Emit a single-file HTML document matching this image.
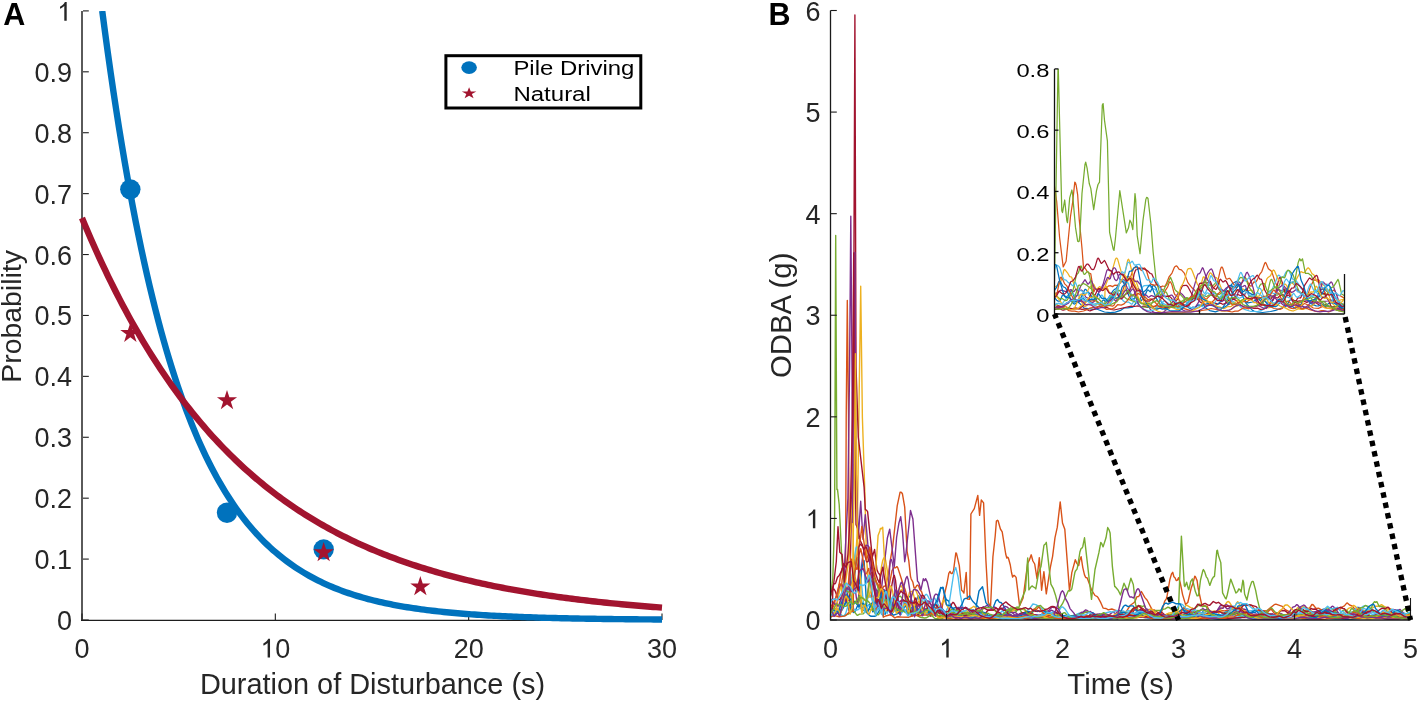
<!DOCTYPE html>
<html><head><meta charset="utf-8"><title>Figure</title>
<style>text{font-family:"Liberation Sans",sans-serif}html,body{margin:0;padding:0;background:#fff;width:1418px;height:702px;overflow:hidden}</style>
</head><body>
<svg width="1418" height="702" viewBox="0 0 1418 702" style="position:absolute;left:0;top:0;will-change:transform">
<rect width="100%" height="100%" fill="#fff"/>
<path d="M82.0,10.9 V620.3" stroke="#5a5a5a" stroke-width="2" fill="none"/>
<path d="M81.0,620.3 H662.0" stroke="#1e1e1e" stroke-width="1.3" fill="none"/>
<g stroke="#1e1e1e" stroke-width="1.1" fill="none">
<path d="M83.0,620.00 H88.8"/>
<path d="M83.0,559.09 H88.8"/>
<path d="M83.0,498.18 H88.8"/>
<path d="M83.0,437.27 H88.8"/>
<path d="M83.0,376.36 H88.8"/>
<path d="M83.0,315.45 H88.8"/>
<path d="M83.0,254.54 H88.8"/>
<path d="M83.0,193.63 H88.8"/>
<path d="M83.0,132.72 H88.8"/>
<path d="M83.0,71.81 H88.8"/>
<path d="M83.0,10.90 H88.8"/>
<path d="M82.00,620.0 v-6.4"/>
<path d="M275.33,620.0 v-6.4"/>
<path d="M468.67,620.0 v-6.4"/>
<path d="M662.00,620.0 v-6.4"/>
</g>
<g font-size="27" fill="#262626">
<text x="72" y="630.00" text-anchor="end">0</text>
<text x="72" y="569.09" text-anchor="end">0.1</text>
<text x="72" y="508.18" text-anchor="end">0.2</text>
<text x="72" y="447.27" text-anchor="end">0.3</text>
<text x="72" y="386.36" text-anchor="end">0.4</text>
<text x="72" y="325.45" text-anchor="end">0.5</text>
<text x="72" y="264.54" text-anchor="end">0.6</text>
<text x="72" y="203.63" text-anchor="end">0.7</text>
<text x="72" y="142.72" text-anchor="end">0.8</text>
<text x="72" y="81.81" text-anchor="end">0.9</text>
<path d="M66.70,2.00 L66.70,20.70 L64.30,20.70 L64.30,6.10 C63.20,7.20 61.60,8.20 60.00,8.80 L60.00,6.70 C62.20,5.70 63.90,4.10 64.90,2.00 Z"/>
<text x="82.00" y="657.7" text-anchor="middle">0</text>
<path d="M270.03,638.80 L270.03,657.50 L267.63,657.50 L267.63,642.90 C266.53,644.00 264.93,645.00 263.33,645.60 L263.33,643.50 C265.53,642.50 267.23,640.90 268.23,638.80 Z"/>
<text x="275.33" y="657.7">0</text>
<text x="468.67" y="657.7" text-anchor="middle">20</text>
<text x="662.00" y="657.7" text-anchor="middle">30</text>
</g>
<text x="372.5" y="694.1" text-anchor="middle" font-size="28.9" fill="#262626">Duration of Disturbance (s)</text>
<text transform="translate(21.0,316.4) rotate(-90)" x="0" y="0" text-anchor="middle" font-size="28.4" fill="#262626">Probability</text>
<text x="3.2" y="24.6" font-weight="bold" font-size="30.5" fill="#000">A</text>
<defs><clipPath id="ca"><rect x="82.0" y="10.9" width="581.0" height="613.1"/></clipPath></defs>
<polyline clip-path="url(#ca)" points="102.22,10.90 105.02,32.13 107.81,52.61 110.61,72.38 113.41,91.47 116.21,109.88 119.01,127.66 121.81,144.82 124.61,161.38 127.41,177.36 130.21,192.78 133.00,207.67 135.80,222.04 138.60,235.91 141.40,249.29 144.20,262.21 147.00,274.68 149.80,286.71 152.60,298.33 155.40,309.54 158.19,320.35 160.99,330.80 163.79,340.87 166.59,350.60 169.39,359.99 172.19,369.05 174.99,377.79 177.79,386.23 180.59,394.38 183.39,402.24 186.18,409.83 188.98,417.16 191.78,424.22 194.58,431.05 197.38,437.63 200.18,443.99 202.98,450.12 205.78,456.04 208.58,461.75 211.37,467.27 214.17,472.59 216.97,477.73 219.77,482.68 222.57,487.47 225.37,492.09 228.17,496.55 230.97,500.85 233.77,505.00 236.56,509.01 239.36,512.87 242.16,516.61 244.96,520.21 247.76,523.69 250.56,527.04 253.36,530.28 256.16,533.41 258.96,536.43 261.75,539.34 264.55,542.15 267.35,544.86 270.15,547.48 272.95,550.01 275.75,552.45 278.55,554.80 281.35,557.07 284.15,559.27 286.95,561.38 289.74,563.43 292.54,565.40 295.34,567.30 298.14,569.14 300.94,570.91 303.74,572.62 306.54,574.27 309.34,575.86 312.14,577.40 314.93,578.89 317.73,580.32 320.53,581.70 323.33,583.04 326.13,584.32 328.93,585.57 331.73,586.77 334.53,587.93 337.33,589.04 340.12,590.12 342.92,591.16 345.72,592.17 348.52,593.14 351.32,594.07 354.12,594.98 356.92,595.85 359.72,596.69 362.52,597.50 365.31,598.29 368.11,599.04 370.91,599.77 373.71,600.48 376.51,601.16 379.31,601.82 382.11,602.45 384.91,603.06 387.71,603.65 390.50,604.22 393.30,604.77 396.10,605.30 398.90,605.81 401.70,606.31 404.50,606.79 407.30,607.25 410.10,607.69 412.90,608.12 415.70,608.53 418.49,608.93 421.29,609.32 424.09,609.69 426.89,610.05 429.69,610.40 432.49,610.73 435.29,611.05 438.09,611.37 440.89,611.67 443.68,611.96 446.48,612.24 449.28,612.51 452.08,612.77 454.88,613.02 457.68,613.26 460.48,613.50 463.28,613.73 466.08,613.94 468.87,614.16 471.67,614.36 474.47,614.56 477.27,614.75 480.07,614.93 482.87,615.11 485.67,615.28 488.47,615.44 491.27,615.60 494.06,615.75 496.86,615.90 499.66,616.04 502.46,616.18 505.26,616.31 508.06,616.44 510.86,616.57 513.66,616.69 516.46,616.80 519.26,616.91 522.05,617.02 524.85,617.12 527.65,617.22 530.45,617.32 533.25,617.41 536.05,617.51 538.85,617.59 541.65,617.68 544.45,617.76 547.24,617.84 550.04,617.91 552.84,617.98 555.64,618.05 558.44,618.12 561.24,618.19 564.04,618.25 566.84,618.31 569.64,618.37 572.43,618.43 575.23,618.48 578.03,618.53 580.83,618.59 583.63,618.63 586.43,618.68 589.23,618.73 592.03,618.77 594.83,618.82 597.62,618.86 600.42,618.90 603.22,618.93 606.02,618.97 608.82,619.01 611.62,619.04 614.42,619.08 617.22,619.11 620.02,619.14 622.82,619.17 625.61,619.20 628.41,619.23 631.21,619.25 634.01,619.28 636.81,619.30 639.61,619.33 642.41,619.35 645.21,619.37 648.01,619.40 650.80,619.42 653.60,619.44 656.40,619.46 659.20,619.48 662.00,619.49" fill="none" stroke="#0072BD" stroke-width="6.4"/>
<polyline points="82.00,217.99 84.90,224.93 87.80,231.74 90.70,238.44 93.60,245.02 96.50,251.49 99.40,257.85 102.30,264.09 105.20,270.23 108.10,276.27 111.00,282.20 113.90,288.02 116.80,293.75 119.70,299.38 122.60,304.91 125.50,310.34 128.40,315.68 131.30,320.93 134.20,326.09 137.10,331.16 140.00,336.14 142.90,341.04 145.80,345.85 148.70,350.58 151.60,355.23 154.50,359.80 157.40,364.28 160.30,368.70 163.20,373.03 166.10,377.29 169.00,381.48 171.90,385.59 174.80,389.63 177.70,393.61 180.60,397.51 183.50,401.35 186.40,405.12 189.30,408.83 192.20,412.47 195.10,416.05 198.00,419.57 200.90,423.03 203.80,426.42 206.70,429.76 209.60,433.05 212.50,436.27 215.40,439.44 218.30,442.55 221.20,445.61 224.10,448.62 227.00,451.58 229.90,454.48 232.80,457.34 235.70,460.15 238.60,462.90 241.50,465.61 244.40,468.28 247.30,470.89 250.20,473.46 253.10,475.99 256.00,478.48 258.90,480.92 261.80,483.32 264.70,485.67 267.60,487.99 270.50,490.27 273.40,492.51 276.30,494.71 279.20,496.87 282.10,498.99 285.00,501.08 287.90,503.13 290.80,505.15 293.70,507.13 296.60,509.07 299.50,510.99 302.40,512.87 305.30,514.72 308.20,516.53 311.10,518.32 314.00,520.07 316.90,521.79 319.80,523.49 322.70,525.15 325.60,526.79 328.50,528.40 331.40,529.98 334.30,531.53 337.20,533.06 340.10,534.56 343.00,536.03 345.90,537.48 348.80,538.90 351.70,540.30 354.60,541.67 357.50,543.03 360.40,544.35 363.30,545.66 366.20,546.94 369.10,548.20 372.00,549.44 374.90,550.66 377.80,551.85 380.70,553.03 383.60,554.18 386.50,555.32 389.40,556.43 392.30,557.53 395.20,558.61 398.10,559.67 401.00,560.71 403.90,561.73 406.80,562.74 409.70,563.72 412.60,564.69 415.50,565.65 418.40,566.59 421.30,567.51 424.20,568.41 427.10,569.30 430.00,570.18 432.90,571.04 435.80,571.88 438.70,572.71 441.60,573.53 444.50,574.33 447.40,575.12 450.30,575.89 453.20,576.65 456.10,577.40 459.00,578.13 461.90,578.86 464.80,579.57 467.70,580.26 470.60,580.95 473.50,581.62 476.40,582.28 479.30,582.94 482.20,583.57 485.10,584.20 488.00,584.82 490.90,585.43 493.80,586.02 496.70,586.61 499.60,587.19 502.50,587.75 505.40,588.31 508.30,588.85 511.20,589.39 514.10,589.92 517.00,590.44 519.90,590.95 522.80,591.45 525.70,591.94 528.60,592.43 531.50,592.90 534.40,593.37 537.30,593.83 540.20,594.28 543.10,594.72 546.00,595.16 548.90,595.59 551.80,596.01 554.70,596.42 557.60,596.83 560.50,597.23 563.40,597.62 566.30,598.01 569.20,598.39 572.10,598.76 575.00,599.13 577.90,599.49 580.80,599.84 583.70,600.19 586.60,600.53 589.50,600.87 592.40,601.20 595.30,601.52 598.20,601.84 601.10,602.15 604.00,602.46 606.90,602.76 609.80,603.06 612.70,603.35 615.60,603.64 618.50,603.92 621.40,604.20 624.30,604.47 627.20,604.74 630.10,605.00 633.00,605.26 635.90,605.52 638.80,605.77 641.70,606.01 644.60,606.25 647.50,606.49 650.40,606.72 653.30,606.95 656.20,607.18 659.10,607.40 662.00,607.62" fill="none" stroke="#A2142F" stroke-width="6.4"/>
<circle cx="130.33" cy="189.37" r="10.2" fill="#0072BD"/>
<circle cx="227.00" cy="512.80" r="10.2" fill="#0072BD"/>
<circle cx="323.67" cy="549.34" r="10.2" fill="#0072BD"/>
<path d="M130.33,322.70 L132.71,330.03 L140.41,330.03 L134.18,334.56 L136.56,341.88 L130.33,337.35 L124.10,341.88 L126.48,334.56 L120.25,330.03 L127.95,330.03Z" fill="#A2142F"/>
<path d="M227.00,389.95 L229.38,397.27 L237.08,397.27 L230.85,401.80 L233.23,409.13 L227.00,404.60 L220.77,409.13 L223.15,401.80 L216.92,397.27 L224.62,397.27Z" fill="#A2142F"/>
<path d="M323.67,541.98 L326.05,549.30 L333.75,549.31 L327.52,553.83 L329.90,561.16 L323.67,556.63 L317.44,561.16 L319.82,553.83 L313.59,549.31 L321.29,549.30Z" fill="#A2142F"/>
<path d="M420.33,576.09 L422.71,583.41 L430.41,583.41 L424.18,587.94 L426.56,595.27 L420.33,590.74 L414.10,595.27 L416.48,587.94 L410.25,583.41 L417.95,583.41Z" fill="#A2142F"/>
<rect x="445.9" y="55.7" width="194.9" height="52.3" fill="#fff" stroke="#000" stroke-width="3"/>
<ellipse cx="469.1" cy="67.6" rx="7.8" ry="6.3" fill="#0072BD"/>
<g transform="translate(469.1,93.4) scale(1.25,1)"><path d="M0.00,-6.10 L1.37,-1.89 L5.80,-1.89 L2.22,0.72 L3.59,4.94 L0.00,2.33 L-3.59,4.94 L-2.22,0.72 L-5.80,-1.89 L-1.37,-1.89Z" fill="#A2142F"/></g>
<g font-size="19.4" fill="#000">
<text transform="translate(513.4,75.2) scale(1.234,1)">Pile Driving</text>
<text transform="translate(513.4,100.9) scale(1.238,1)">Natural</text>
</g>
<defs><clipPath id="cb"><rect x="830.5" y="10.5" width="581.0" height="609.5"/></clipPath></defs>
<g clip-path="url(#cb)" fill="none" stroke-width="1.4" stroke-linejoin="round">
<polyline points="830.5,611.8 833.4,609.4 836.3,608.8 837.5,609.2 839.8,611.9 840.9,611.8 844.4,605.9 846.7,600.3 847.9,599.3 848.5,599.7 849.6,601.8 852.0,609.4 853.1,612.0 853.7,612.5 854.9,611.8 857.2,606.5 858.3,604.8 859.5,605.6 862.4,610.6 863.6,610.1 865.3,610.7 867.6,605.8 868.8,605.0 870.5,604.5 871.7,606.4 872.8,611.9 873.4,611.5 876.9,593.2 877.5,591.2 878.1,590.1 878.6,589.8 879.8,590.9 880.4,592.3 885.0,614.3 887.3,610.0 888.5,608.9 889.7,609.4 892.0,613.6 894.3,610.4 896.6,608.7 897.8,609.5 900.1,614.7 900.7,614.9 904.7,602.6 907.6,597.1 908.8,596.0 910.0,596.9 911.1,598.6 912.3,602.2 914.0,610.6 914.6,611.0 916.9,599.1 918.1,596.0 918.7,595.8 919.8,598.2 923.3,611.0 923.9,611.6 925.6,609.4 926.8,608.6 928.5,609.1 930.8,607.5 935.5,609.0 936.1,608.4 940.7,588.3 943.0,587.2 945.3,597.0 946.5,600.0 947.7,600.2 948.2,600.7 952.3,608.4 955.2,607.7 958.1,608.5 959.8,607.9 961.6,608.3 964.5,607.9 966.2,608.3 968.5,609.5 970.9,609.4 972.6,610.3 974.3,610.4 975.5,610.1 979.0,591.0 982.5,586.7 985.9,602.6 987.1,604.1 989.4,605.5 991.7,607.7 992.9,608.2 995.8,600.9 997.5,599.5 999.3,602.1 999.9,602.5 1001.0,602.4 1003.3,605.3 1006.8,611.3 1007.4,614.6 1009.7,614.7 1015.5,617.8 1017.8,618.3 1026.0,618.4 1037.6,615.2 1039.9,616.3 1043.9,616.4 1046.8,617.7 1051.5,617.9 1055.0,618.7 1060.2,618.4 1065.4,617.5 1068.9,618.0 1074.7,617.9 1078.2,618.6 1090.3,617.7 1095.6,618.8 1105.4,619.2 1111.2,618.8 1117.0,617.4 1119.9,614.9 1121.7,613.9 1123.4,612.1 1124.0,612.0 1125.7,613.8 1126.3,613.9 1128.0,612.7 1128.6,612.7 1132.1,615.9 1135.0,615.7 1137.9,617.1 1140.8,617.0 1153.6,618.6 1161.7,618.7 1165.7,618.3 1168.6,616.8 1171.5,616.4 1173.9,614.8 1175.6,614.2 1177.9,614.2 1180.2,615.5 1182.6,615.7 1184.9,613.7 1187.8,614.4 1190.1,613.7 1191.8,612.2 1192.4,612.2 1194.2,614.3 1195.9,615.6 1202.3,618.1 1212.1,618.4 1217.9,619.3 1224.3,619.5 1229.5,619.1 1234.2,618.0 1241.1,617.7 1244.0,616.2 1246.9,615.9 1249.3,614.9 1252.7,612.1 1255.1,612.6 1257.4,610.5 1258.0,610.4 1259.7,611.3 1264.3,616.4 1266.1,617.4 1267.8,617.9 1269.6,618.0 1273.0,616.9 1275.9,616.6 1284.1,617.1 1292.2,613.4 1293.9,613.1 1295.1,613.8 1297.4,616.6 1299.1,617.9 1302.6,618.9 1307.3,619.3 1311.3,618.6 1313.1,617.9 1316.5,615.4 1320.0,610.4 1320.6,610.0 1324.1,609.1 1327.0,609.6 1329.9,614.9 1331.6,616.4 1336.8,618.8 1340.9,619.3 1345.0,619.5 1351.3,619.2 1362.9,617.7 1364.1,617.4 1366.4,615.6 1368.2,615.3 1369.9,615.4 1374.0,617.0 1376.3,617.1 1379.8,618.2 1382.1,617.4 1385.6,616.9 1387.9,615.6 1390.2,612.6 1393.7,611.6 1399.5,613.2 1401.8,615.6 1405.9,617.5 1410.5,617.7" stroke="#0072BD"/>
<polyline points="830.5,607.4 834.6,600.8 838.0,591.6 840.9,573.6 842.1,568.5 842.7,568.3 843.3,569.6 844.4,574.1 845.6,583.2 846.7,597.9 847.3,599.7 849.1,573.6 850.2,564.7 851.4,559.3 852.0,559.5 852.5,561.8 854.9,576.4 857.8,588.1 861.2,607.7 861.8,608.4 863.0,606.1 863.6,606.0 865.3,610.3 867.0,600.0 869.4,578.1 869.9,574.9 871.1,572.8 872.3,572.5 872.8,572.9 875.2,579.9 878.6,587.8 882.1,593.0 882.7,588.4 883.3,587.0 883.9,586.2 885.0,586.0 885.6,585.5 886.2,584.0 888.5,573.6 890.2,560.6 892.6,547.4 897.2,505.9 900.1,492.2 900.7,492.1 901.3,492.3 902.4,493.7 904.7,507.1 907.1,551.3 908.8,560.8 910.5,576.3 911.1,578.7 912.9,582.3 914.0,587.7 915.2,588.2 916.9,585.4 917.5,585.2 918.1,585.6 918.7,586.2 919.8,589.5 921.6,591.7 923.3,597.2 925.6,599.2 927.9,603.0 930.3,603.9 932.0,605.5 935.5,607.6 939.0,608.3 940.7,609.4 941.9,609.3 943.6,598.2 947.1,583.0 948.8,573.3 950.0,571.4 951.1,573.3 951.7,573.6 952.3,573.3 953.5,570.9 955.8,553.0 956.4,553.2 956.9,555.2 959.3,565.6 961.6,590.2 962.7,591.2 963.9,593.1 966.2,572.4 967.4,599.1 969.7,599.3 970.9,514.0 974.3,508.6 977.8,495.4 979.6,515.4 981.3,500.0 983.6,502.9 985.9,560.3 988.3,602.4 989.4,604.5 990.6,605.7 992.9,557.0 995.2,536.0 996.4,521.1 997.5,520.3 998.1,520.8 1000.4,529.0 1002.2,531.8 1005.7,554.0 1006.8,558.0 1007.4,557.2 1008.0,557.4 1008.6,558.7 1010.3,565.0 1011.5,572.5 1012.6,577.0 1013.8,575.4 1014.4,575.5 1016.1,577.4 1019.6,605.8 1023.1,598.0 1027.7,563.2 1029.4,559.9 1031.2,554.8 1032.9,561.0 1034.7,564.0 1037.0,578.7 1039.3,557.6 1041.6,590.2 1043.9,571.7 1046.3,593.9 1050.3,567.6 1052.6,556.3 1055.0,537.6 1057.3,527.2 1060.2,501.9 1062.5,523.0 1064.8,529.3 1069.5,590.9 1071.8,572.6 1075.3,559.8 1077.0,563.6 1078.7,565.5 1079.9,559.7 1081.1,556.7 1082.8,567.6 1084.5,574.9 1085.7,577.5 1086.9,577.7 1087.4,578.4 1091.5,589.8 1095.0,595.5 1097.3,596.7 1097.9,597.4 1100.8,602.7 1103.1,608.1 1106.0,608.5 1108.3,609.9 1111.8,609.0 1117.6,611.2 1126.3,611.7 1130.4,605.2 1133.8,602.8 1135.0,601.5 1136.7,597.2 1137.3,596.6 1138.5,596.6 1139.1,595.9 1141.4,591.5 1144.9,597.6 1147.2,600.2 1151.8,609.1 1153.0,610.0 1154.7,609.9 1157.6,612.5 1161.1,613.7 1164.6,601.4 1166.3,598.8 1166.9,597.0 1169.8,579.8 1171.5,574.0 1172.7,572.3 1173.9,576.7 1175.0,577.7 1176.2,580.6 1177.3,580.3 1178.5,577.7 1180.2,582.7 1182.6,594.6 1185.5,604.4 1187.8,602.5 1191.3,587.7 1193.0,583.1 1194.7,576.3 1195.3,576.5 1197.1,580.6 1198.2,588.5 1201.7,604.6 1207.5,606.7 1209.8,612.7 1211.0,611.5 1213.3,612.0 1217.4,611.4 1219.1,611.6 1222.0,610.6 1224.9,610.9 1226.6,610.4 1229.0,610.5 1232.4,609.1 1234.2,609.1 1236.5,607.7 1239.4,607.7 1241.7,604.9 1242.9,604.6 1245.8,604.7 1248.1,605.6 1249.8,604.8 1251.0,604.9 1255.6,610.1 1258.5,610.5 1260.3,610.3 1262.6,611.2 1264.9,610.7 1266.7,610.9 1274.2,604.7 1275.9,604.1 1282.3,606.4 1285.2,609.6 1292.2,613.2 1294.5,613.5 1295.1,612.3 1296.8,613.9 1299.7,615.1 1303.2,613.7 1305.5,611.3 1308.4,609.9 1311.9,604.5 1313.1,604.7 1316.0,608.4 1318.9,608.3 1324.1,611.3 1327.6,610.3 1330.5,607.7 1334.5,610.5 1335.7,610.8 1338.0,609.4 1339.2,609.4 1340.3,609.0 1342.6,606.8 1344.4,605.9 1346.7,603.1 1347.3,602.9 1349.6,605.0 1352.5,606.2 1354.8,609.2 1362.9,615.6 1364.1,616.0 1365.8,615.7 1368.2,616.8 1371.6,616.9 1376.3,616.0 1378.6,613.9 1380.9,613.6 1381.5,613.2 1383.2,610.9 1385.6,609.1 1386.7,608.7 1390.2,608.8 1396.0,613.7 1396.6,613.7 1398.9,612.2 1400.6,612.5 1402.4,612.1 1404.7,613.7 1410.5,614.6" stroke="#D95319"/>
<polyline points="830.5,609.6 834.0,603.7 834.6,603.0 835.1,603.0 836.3,605.8 838.0,612.8 840.4,600.9 842.1,595.8 843.8,594.8 845.0,594.9 847.3,599.1 847.9,599.5 848.5,599.3 849.6,595.8 850.2,592.2 853.1,570.1 853.7,586.5 857.2,533.3 860.7,286.3 862.4,418.0 864.7,487.8 866.5,557.4 869.4,597.1 870.5,596.2 872.3,599.2 874.0,604.5 875.7,613.4 881.5,566.5 882.7,560.6 883.9,557.8 884.4,557.5 885.0,558.2 885.6,560.1 887.3,570.7 890.8,600.7 892.6,612.3 893.1,611.4 895.5,600.2 897.8,594.1 899.5,587.5 900.7,585.6 901.3,585.9 902.4,587.9 904.2,592.9 906.5,607.0 907.1,606.9 908.2,597.9 909.4,592.5 910.0,591.7 911.7,591.4 912.9,592.8 913.4,594.3 916.3,605.4 918.1,601.9 918.7,601.5 921.0,603.0 922.7,601.4 923.3,601.5 929.7,611.7 931.4,612.1 934.3,610.6 939.5,612.6 942.4,612.0 945.3,612.6 948.8,610.5 951.7,612.9 952.9,613.2 954.0,613.0 955.8,611.2 959.8,611.2 962.2,612.6 965.1,612.4 969.1,616.7 970.9,617.7 974.3,617.3 978.4,617.7 982.5,616.5 984.8,616.8 987.7,615.7 992.9,617.2 996.4,616.8 998.7,616.0 1001.0,614.7 1003.3,615.6 1005.7,615.2 1008.0,615.7 1012.6,616.0 1014.9,617.1 1016.1,617.2 1019.6,616.6 1024.2,615.3 1027.1,615.3 1030.0,612.7 1031.2,613.0 1037.6,617.0 1039.9,617.2 1042.8,618.2 1046.8,618.9 1063.7,618.5 1069.5,617.6 1072.9,617.7 1078.2,615.4 1081.6,616.0 1084.0,617.6 1087.4,618.4 1096.7,619.1 1106.0,618.2 1108.9,617.0 1113.5,616.5 1119.3,615.2 1122.2,616.0 1128.0,613.7 1129.2,613.8 1130.9,615.0 1131.5,615.0 1133.3,614.1 1135.0,614.0 1137.9,610.9 1139.1,610.4 1140.8,611.4 1143.1,611.8 1147.2,613.4 1151.2,616.4 1154.7,617.1 1157.6,616.3 1160.5,616.3 1164.0,614.9 1167.5,614.3 1169.2,614.4 1173.9,612.8 1176.2,612.6 1178.5,611.1 1183.1,609.7 1186.0,605.4 1186.6,605.2 1190.7,607.6 1192.4,608.0 1194.7,611.1 1201.7,617.3 1203.4,617.5 1206.9,616.7 1211.0,617.1 1213.3,616.6 1217.4,617.4 1218.5,617.3 1219.1,610.8 1224.3,606.0 1227.2,601.9 1228.4,601.5 1229.5,602.4 1232.4,606.8 1233.6,607.5 1234.8,606.7 1236.5,603.1 1237.7,601.8 1238.2,602.2 1241.7,608.1 1244.0,609.5 1246.4,612.3 1248.1,613.5 1250.4,616.4 1251.6,616.9 1256.2,617.4 1260.9,617.8 1263.2,617.0 1266.1,617.3 1269.0,616.8 1276.5,618.6 1281.2,618.2 1287.0,615.7 1291.0,613.2 1293.9,612.6 1297.4,607.8 1298.0,607.6 1300.3,608.8 1303.2,606.3 1306.1,607.7 1308.4,608.1 1312.5,612.0 1315.4,612.4 1317.1,613.5 1319.4,613.5 1321.8,612.5 1324.1,612.1 1327.0,612.5 1329.3,611.7 1331.6,612.3 1336.3,612.1 1345.5,617.0 1348.4,617.8 1350.2,617.9 1355.4,617.0 1358.9,614.7 1361.2,612.0 1363.5,612.7 1364.7,612.4 1367.6,609.6 1370.5,610.1 1372.2,608.3 1375.1,606.2 1378.6,606.2 1381.5,604.7 1384.4,606.6 1386.1,607.1 1388.5,609.2 1390.8,609.2 1394.8,610.8 1397.2,612.7 1399.5,615.4 1401.2,616.7 1405.9,618.3 1410.5,618.5" stroke="#EDB120"/>
<polyline points="830.5,612.2 832.2,608.4 832.8,608.0 833.4,608.1 835.7,613.2 839.2,588.4 839.8,586.1 840.9,584.5 841.5,584.3 842.1,584.8 842.7,586.4 845.6,603.1 847.9,588.3 848.5,586.5 850.2,584.9 852.0,580.5 852.5,580.0 853.7,582.3 854.9,586.9 857.2,604.0 857.8,604.9 862.4,558.4 864.1,550.2 865.9,545.2 868.2,545.9 868.8,546.6 869.4,548.6 874.0,575.7 876.3,599.6 876.9,593.7 878.6,591.2 880.4,590.9 881.5,588.7 887.3,538.3 889.7,529.2 894.3,566.4 896.6,537.5 898.9,523.1 900.7,516.7 902.4,530.6 904.7,561.7 905.9,554.2 910.5,510.5 912.9,519.0 917.5,581.1 918.7,582.5 921.0,589.7 923.3,578.8 924.5,580.7 925.0,580.3 925.6,578.6 927.4,582.4 931.4,600.3 933.2,604.4 935.5,612.0 938.4,609.8 939.5,609.8 944.2,616.1 945.9,614.8 947.1,614.5 950.6,616.8 952.3,616.2 957.5,617.7 962.2,616.9 964.5,617.2 971.4,611.7 973.8,611.6 976.1,610.5 978.4,612.8 980.1,613.1 982.5,614.5 984.8,614.9 987.1,616.1 991.2,616.3 996.4,614.0 999.3,609.5 999.9,609.1 1002.2,609.1 1003.9,606.9 1005.1,606.3 1006.8,606.9 1009.1,608.7 1014.4,614.9 1017.8,614.8 1021.9,615.9 1024.2,616.0 1027.1,617.2 1032.3,616.0 1035.8,614.6 1038.7,615.2 1041.6,614.9 1045.1,613.5 1047.4,611.0 1049.7,611.4 1051.5,610.2 1054.4,611.8 1056.7,612.4 1059.0,615.6 1061.9,617.5 1069.5,618.3 1076.4,617.1 1084.5,611.7 1086.9,612.4 1090.3,611.5 1096.7,616.7 1097.9,617.1 1101.4,616.4 1103.7,614.8 1105.4,615.0 1109.5,614.5 1113.0,611.9 1114.7,613.1 1115.9,613.4 1118.8,610.3 1122.2,612.4 1124.0,612.3 1127.5,613.4 1130.4,613.4 1132.7,614.5 1135.0,613.3 1137.3,613.6 1140.2,610.0 1144.3,610.8 1147.2,609.2 1148.3,609.6 1150.1,609.5 1152.4,612.4 1155.9,614.7 1157.0,615.2 1158.8,614.9 1161.1,616.7 1162.3,617.0 1166.9,617.5 1169.2,616.8 1171.5,616.9 1177.3,614.0 1183.1,612.1 1188.4,612.6 1191.3,611.9 1193.6,612.6 1195.9,611.8 1197.6,612.3 1200.5,612.2 1203.4,614.3 1205.8,614.9 1207.5,616.1 1208.7,616.4 1212.1,615.2 1214.5,612.0 1216.2,611.2 1217.4,610.2 1220.3,605.7 1221.4,605.3 1224.3,605.9 1226.6,608.5 1227.8,608.9 1229.0,608.4 1230.1,607.1 1233.0,606.7 1236.5,608.6 1238.8,608.2 1241.1,608.4 1242.9,609.3 1244.6,609.1 1247.5,610.4 1250.4,615.0 1252.2,615.9 1255.1,618.4 1258.5,619.5 1264.3,619.6 1267.8,618.6 1273.0,616.0 1277.7,612.9 1280.6,613.4 1283.5,614.9 1287.0,615.2 1292.8,607.2 1295.1,606.3 1296.8,604.6 1297.4,604.8 1300.3,608.3 1303.8,610.7 1306.7,614.6 1307.3,614.9 1309.6,614.9 1311.9,615.9 1314.8,615.4 1317.1,616.9 1318.3,616.8 1321.2,614.9 1323.5,614.8 1327.0,611.3 1330.5,610.5 1331.6,611.1 1333.9,613.8 1335.1,614.2 1338.0,614.3 1339.7,615.7 1343.2,616.7 1346.1,615.6 1349.0,616.3 1351.9,616.1 1353.1,615.6 1357.1,612.0 1360.0,612.3 1362.4,611.8 1365.8,612.9 1369.3,616.1 1370.5,616.8 1377.4,618.2 1385.0,616.2 1387.3,614.6 1389.6,614.1 1390.8,612.9 1393.1,609.4 1397.2,610.3 1400.1,609.4 1407.6,617.5 1410.5,618.7" stroke="#7E2F8E"/>
<polyline points="830.5,615.4 834.6,612.6 836.9,613.4 838.6,613.4 842.1,615.7 843.3,615.9 848.5,614.0 851.4,611.0 852.5,610.5 853.7,611.0 857.2,615.4 857.8,615.3 859.5,614.1 863.0,613.9 864.7,612.2 866.5,611.5 868.8,609.5 870.5,609.4 872.8,610.4 874.6,610.0 876.9,608.7 882.1,604.7 884.4,604.1 886.8,601.7 888.5,601.3 889.7,600.3 892.0,602.4 893.7,602.5 895.5,603.2 898.9,606.1 900.1,607.7 901.3,608.4 903.0,608.6 905.3,611.3 906.5,611.7 910.5,614.9 912.9,615.1 915.8,614.8 920.4,617.3 924.5,618.0 926.2,617.8 930.8,615.2 933.2,614.7 935.5,612.9 936.6,612.6 939.5,613.5 942.4,615.2 944.2,615.5 947.7,617.4 951.1,616.7 954.0,617.0 957.5,616.1 964.5,615.6 968.5,614.1 976.1,618.4 981.3,619.1 988.8,618.9 997.0,617.3 1003.3,613.8 1005.1,612.4 1007.4,611.8 1009.1,610.2 1013.8,609.8 1015.5,610.3 1016.1,612.0 1019.6,605.5 1021.3,599.9 1025.4,590.3 1027.7,558.0 1028.9,589.9 1031.2,586.6 1032.3,585.9 1032.9,586.7 1035.2,588.0 1035.8,588.9 1038.7,572.5 1041.0,566.6 1043.9,545.6 1044.5,544.5 1045.7,543.8 1046.3,542.3 1050.9,584.1 1053.2,588.3 1055.5,595.2 1059.0,609.0 1062.5,603.7 1068.3,590.7 1070.6,590.5 1071.8,588.9 1074.7,573.3 1075.3,571.3 1077.0,569.1 1077.6,566.6 1079.9,552.0 1081.1,548.5 1082.2,547.9 1082.8,546.5 1084.5,537.8 1091.5,599.3 1095.0,569.5 1099.0,552.2 1100.8,542.4 1101.9,543.9 1103.1,546.9 1106.0,537.8 1107.7,527.5 1108.9,529.6 1110.1,533.0 1112.4,566.7 1114.7,586.6 1115.3,586.7 1118.2,590.2 1120.5,594.9 1124.0,583.2 1127.5,590.9 1130.9,578.3 1133.3,584.5 1135.6,604.7 1137.3,608.0 1139.1,613.4 1141.4,612.9 1148.9,612.4 1152.4,611.0 1154.7,611.0 1156.5,610.4 1160.5,610.5 1162.8,609.4 1165.2,608.9 1167.5,607.2 1169.2,607.5 1170.4,608.7 1175.0,611.7 1178.5,608.9 1181.4,536.1 1184.3,585.8 1184.9,586.4 1186.6,582.2 1188.4,589.0 1188.9,589.7 1190.7,581.5 1192.4,578.9 1195.3,591.3 1197.1,595.9 1198.2,595.8 1198.8,593.8 1200.5,580.0 1202.9,570.4 1203.4,569.6 1204.6,571.6 1206.3,576.8 1207.5,578.4 1209.8,585.4 1212.1,579.1 1213.3,577.1 1214.5,576.3 1216.8,550.7 1217.4,550.2 1218.5,555.8 1220.8,562.6 1222.6,592.9 1225.5,598.5 1226.1,598.9 1227.2,595.0 1230.7,579.1 1235.9,593.1 1237.7,591.4 1238.8,588.9 1240.0,589.7 1241.1,592.0 1242.9,580.1 1243.5,582.1 1244.6,594.0 1246.9,600.0 1249.3,588.9 1251.6,582.1 1252.2,581.4 1252.7,581.4 1253.3,581.7 1255.6,590.1 1257.4,599.3 1259.7,608.6 1263.2,613.9 1264.9,613.0 1267.2,610.8 1269.0,609.9 1271.3,607.8 1274.8,611.8 1275.9,612.4 1282.3,615.0 1284.6,614.6 1286.4,615.3 1289.3,614.5 1292.2,614.9 1297.4,613.7 1299.7,614.2 1302.6,613.7 1306.7,614.1 1308.4,613.4 1310.7,613.4 1313.6,612.3 1316.5,612.8 1323.5,610.8 1325.2,609.0 1327.0,608.0 1329.3,608.1 1329.9,607.7 1331.6,608.4 1333.9,610.9 1340.9,615.0 1344.4,614.6 1346.7,614.8 1349.0,614.4 1351.9,614.4 1354.2,613.7 1360.0,613.2 1364.7,611.3 1367.0,609.7 1369.9,609.3 1371.1,608.5 1373.4,603.1 1374.5,601.7 1375.7,602.4 1376.9,601.7 1379.2,606.5 1381.5,606.5 1383.8,607.1 1387.3,611.9 1389.0,612.6 1394.3,613.6 1396.6,613.4 1398.3,611.9 1401.8,610.9 1405.3,608.5 1408.2,613.4 1410.5,613.9" stroke="#77AC30"/>
<polyline points="830.5,613.1 832.2,615.6 832.8,615.1 834.6,611.1 836.3,609.2 837.5,609.9 838.6,613.1 842.7,597.3 845.0,595.4 849.1,588.6 850.2,584.9 852.0,576.2 854.9,554.7 856.0,548.2 856.6,546.9 857.2,547.0 857.8,549.1 858.9,557.4 863.0,598.8 864.7,612.5 867.6,598.8 868.8,596.4 869.9,595.0 870.5,595.3 871.1,596.7 874.0,607.0 875.7,609.7 878.1,608.7 879.2,610.2 879.8,609.2 882.7,597.7 883.9,595.3 884.4,595.2 887.9,599.9 892.0,611.6 892.6,611.8 893.1,611.0 894.3,610.6 895.5,611.3 897.2,613.2 898.4,612.3 898.9,612.3 900.7,614.3 903.6,610.5 906.5,609.6 908.8,607.5 910.0,607.0 912.3,607.7 914.6,610.0 918.1,611.9 918.7,611.0 921.6,601.1 923.3,599.0 925.0,595.3 926.2,594.2 927.4,595.2 930.8,601.7 933.7,598.2 934.3,598.0 934.9,598.5 936.6,602.1 940.7,608.7 942.4,610.4 943.6,610.8 944.2,615.1 948.8,605.5 953.5,575.0 954.6,570.1 955.8,567.6 958.1,577.1 960.4,594.8 964.5,615.8 973.2,616.3 980.7,619.0 984.2,617.9 992.9,616.1 996.4,614.0 999.3,614.3 1002.2,610.7 1004.5,613.1 1008.0,612.9 1012.6,615.7 1016.1,616.7 1021.3,616.4 1022.5,615.8 1024.8,613.4 1027.1,610.3 1029.4,608.8 1032.9,604.0 1035.8,604.6 1039.3,606.6 1042.2,609.3 1046.8,614.7 1050.3,616.3 1052.1,616.7 1053.8,616.4 1056.1,615.2 1061.3,607.2 1061.9,606.8 1063.1,607.2 1065.4,609.6 1068.9,614.8 1070.0,615.8 1071.2,616.0 1075.3,615.0 1079.3,613.2 1082.8,615.4 1084.5,615.4 1086.9,616.5 1089.8,616.7 1092.7,616.4 1095.0,615.0 1103.1,613.7 1110.1,611.8 1113.0,612.1 1117.0,610.4 1119.3,611.9 1120.5,612.2 1122.8,611.0 1125.1,611.8 1127.5,610.8 1130.4,611.0 1133.3,609.6 1135.6,610.7 1137.9,610.5 1140.8,612.2 1143.7,611.3 1146.6,612.9 1150.1,613.1 1153.0,614.7 1155.9,617.1 1159.9,618.2 1161.7,617.9 1164.6,616.7 1168.1,617.0 1173.3,615.1 1176.2,616.4 1179.1,617.1 1182.0,616.4 1184.3,616.6 1191.8,613.1 1195.3,613.9 1200.0,613.4 1206.9,616.5 1213.9,617.6 1219.1,616.3 1223.7,614.1 1225.5,613.8 1227.8,612.0 1228.4,612.0 1230.7,614.0 1234.2,616.0 1237.7,616.0 1240.6,616.7 1243.5,614.0 1246.4,613.0 1249.3,610.9 1253.3,610.5 1259.1,611.9 1262.6,615.0 1265.5,616.5 1269.0,617.3 1274.8,616.8 1278.8,616.0 1280.6,616.2 1282.3,615.8 1284.6,616.1 1288.1,615.9 1290.4,614.4 1293.3,615.2 1296.2,614.1 1298.6,614.0 1300.3,613.0 1302.6,613.4 1306.1,613.1 1307.8,613.3 1310.2,614.5 1312.5,614.1 1314.8,615.0 1317.1,614.7 1330.5,618.5 1335.7,619.2 1340.9,619.2 1344.4,618.8 1347.9,616.9 1357.1,607.3 1357.7,607.1 1361.2,607.9 1363.5,606.1 1365.3,605.6 1366.4,605.9 1369.3,608.5 1371.1,608.6 1375.7,611.5 1378.6,612.2 1381.5,614.5 1385.0,614.1 1387.9,612.3 1390.2,612.1 1391.9,611.1 1394.3,611.4 1397.7,610.0 1401.2,614.1 1405.9,615.5 1410.5,617.6" stroke="#4DBEEE"/>
<polyline points="830.5,596.6 832.2,591.1 833.4,589.2 834.0,589.0 835.1,590.8 837.5,597.7 839.2,599.5 839.8,599.5 840.4,598.9 842.7,593.5 843.3,593.0 844.4,593.4 846.2,597.9 849.6,613.1 850.2,568.2 852.5,465.8 853.7,314.5 854.9,14.9 856.0,366.6 858.3,437.0 864.1,487.1 865.3,509.7 866.5,510.1 867.6,511.6 872.3,557.1 874.6,549.5 876.9,569.5 878.1,572.6 879.8,574.8 880.4,576.7 881.0,612.8 882.7,602.5 883.9,598.5 885.0,596.9 887.3,599.9 890.2,605.3 891.4,606.3 892.6,606.8 894.3,606.8 895.5,606.3 898.4,602.1 900.1,601.5 901.8,599.9 902.4,599.9 906.5,606.2 909.4,612.4 911.7,616.1 913.4,615.1 915.8,615.1 916.9,614.7 921.0,611.7 922.7,609.8 926.2,608.9 926.8,609.0 927.9,610.3 930.8,616.3 933.7,611.4 934.9,610.9 937.8,611.4 941.3,615.4 944.2,616.5 948.8,616.0 951.7,614.6 954.0,615.1 955.8,614.8 958.1,613.8 958.7,614.0 960.4,615.9 961.0,615.8 962.7,613.9 963.9,613.2 966.2,613.9 970.9,616.3 980.7,616.3 984.2,615.2 987.7,610.5 992.9,609.9 995.2,610.2 997.5,612.5 999.3,612.5 1003.3,615.9 1006.8,616.0 1013.2,617.0 1017.3,616.9 1020.7,618.1 1028.9,619.5 1037.0,619.4 1043.4,618.4 1046.3,617.5 1050.3,617.3 1055.5,616.4 1061.9,616.6 1067.1,618.3 1072.9,619.1 1090.9,618.8 1094.4,618.2 1099.0,618.5 1102.5,617.7 1104.8,616.4 1107.7,616.9 1111.2,615.7 1113.5,616.2 1116.4,617.6 1120.5,618.0 1125.7,617.1 1129.2,615.7 1132.1,613.4 1135.0,608.6 1135.6,608.7 1137.3,610.7 1138.5,611.1 1140.8,609.0 1142.5,608.4 1145.4,610.9 1150.1,612.0 1152.4,611.6 1155.9,613.6 1158.8,616.3 1163.4,618.4 1166.3,618.8 1171.0,618.2 1176.2,618.5 1182.0,618.1 1185.5,618.7 1195.3,618.0 1200.5,618.5 1204.0,618.3 1206.9,619.0 1214.5,617.4 1226.1,618.7 1244.6,617.3 1256.8,617.8 1261.4,617.2 1264.9,617.9 1269.6,618.0 1273.6,617.1 1277.1,615.0 1279.4,611.8 1280.6,610.9 1283.5,610.5 1285.2,610.9 1288.7,613.6 1296.2,616.4 1299.7,615.6 1304.4,616.4 1309.0,616.7 1311.3,616.4 1313.6,616.7 1316.5,616.1 1320.0,614.7 1323.5,615.4 1329.9,617.7 1340.9,618.0 1343.8,618.5 1346.1,618.3 1349.6,617.4 1353.7,615.1 1354.8,614.0 1357.7,608.8 1358.9,607.9 1360.6,609.5 1362.9,613.0 1363.5,613.2 1365.3,612.3 1365.8,612.4 1368.7,615.0 1369.9,615.5 1378.0,615.7 1380.3,616.2 1383.8,615.6 1387.3,616.1 1391.4,617.4 1395.4,616.9 1398.3,617.6 1404.1,617.5 1408.2,618.3 1410.5,618.2" stroke="#A2142F"/>
<polyline points="830.5,616.5 835.7,614.4 838.0,612.5 839.2,612.1 845.6,602.4 846.7,602.4 847.3,603.0 850.8,609.8 851.4,600.7 856.6,559.5 857.8,557.4 858.3,563.1 859.5,588.7 861.8,569.2 863.0,563.3 863.6,561.3 864.1,560.8 867.0,612.9 869.4,615.3 871.1,616.3 874.6,616.3 876.3,615.5 879.2,610.8 880.4,609.8 881.5,609.4 885.6,612.3 886.2,612.1 887.3,610.3 887.9,610.0 890.8,613.1 893.7,615.2 900.1,612.6 900.7,612.1 902.4,608.1 906.5,606.2 908.2,607.6 910.0,608.0 912.9,612.8 914.0,613.9 915.2,614.4 920.4,612.9 922.7,614.1 925.6,614.0 927.4,615.1 929.7,614.1 932.0,614.1 934.3,612.3 936.1,612.0 938.4,610.5 940.7,610.4 942.4,609.2 943.0,609.4 945.3,612.9 946.5,613.6 948.8,613.8 954.0,616.0 957.5,615.9 958.1,612.1 960.4,606.9 962.2,603.9 963.9,599.4 965.1,598.5 966.8,598.4 969.7,595.7 971.4,599.3 973.2,601.8 979.0,607.7 979.6,615.7 982.5,617.0 985.4,617.0 987.1,617.8 992.9,619.1 998.1,619.3 1001.6,618.8 1005.1,617.5 1009.1,615.0 1017.3,617.8 1020.2,618.2 1023.6,618.0 1026.5,618.3 1029.4,617.9 1034.7,618.2 1041.6,614.4 1043.9,612.6 1044.5,612.5 1047.4,613.9 1051.5,613.7 1053.8,614.9 1056.7,613.7 1059.0,613.3 1059.6,613.5 1061.9,616.1 1066.6,618.5 1069.5,619.3 1072.4,619.5 1078.7,619.2 1083.4,618.0 1085.7,616.7 1089.2,615.4 1091.5,613.0 1092.7,612.6 1095.6,615.1 1101.4,617.9 1108.3,618.6 1114.1,618.0 1115.3,617.5 1119.9,613.0 1123.4,606.6 1124.6,605.5 1125.7,605.1 1128.0,606.6 1130.4,605.9 1132.7,605.9 1133.3,606.2 1135.6,609.8 1138.5,612.2 1140.2,612.6 1143.7,616.5 1147.8,617.6 1151.2,617.6 1158.2,618.5 1170.4,616.1 1176.8,613.3 1179.7,611.6 1182.0,609.2 1182.6,609.1 1185.5,610.9 1187.8,611.6 1191.3,615.1 1194.2,616.7 1198.8,615.3 1202.9,611.8 1213.9,616.5 1215.0,616.6 1217.4,615.4 1219.7,615.7 1225.5,612.2 1227.8,611.6 1231.3,609.3 1232.4,609.0 1234.2,610.1 1238.8,614.7 1240.6,615.2 1243.5,614.5 1246.4,615.5 1249.3,612.9 1251.6,612.1 1255.1,610.3 1256.8,611.4 1259.7,614.6 1263.2,616.9 1267.2,618.4 1272.5,617.6 1278.3,617.7 1281.2,617.0 1287.0,618.2 1289.3,617.7 1291.6,617.7 1293.3,617.0 1296.2,617.1 1300.9,616.6 1303.2,617.2 1306.7,617.3 1310.7,616.0 1317.7,610.7 1319.4,610.5 1322.3,611.1 1325.2,610.2 1326.4,610.4 1329.3,612.5 1332.2,611.7 1333.9,612.9 1338.6,613.7 1346.1,617.0 1347.9,617.4 1353.1,617.0 1357.1,615.3 1358.9,615.1 1360.6,615.6 1362.9,617.0 1365.3,616.9 1367.0,617.5 1371.6,618.1 1375.7,616.8 1378.0,615.2 1379.8,614.9 1383.8,616.6 1387.9,617.3 1392.5,616.7 1395.4,617.6 1397.7,616.4 1401.8,616.3 1410.5,618.6" stroke="#0072BD"/>
<polyline points="830.5,608.1 831.7,609.8 832.2,609.7 833.4,607.3 839.2,584.4 839.8,583.6 840.4,584.3 841.5,588.0 842.1,579.8 845.6,561.7 846.2,418.5 847.3,300.4 848.5,414.2 849.1,546.8 851.4,566.5 852.5,564.0 853.7,559.7 855.4,566.6 856.6,569.2 857.2,569.2 858.9,555.2 860.7,548.6 863.0,559.5 865.3,574.9 867.0,572.3 868.8,568.4 871.1,588.5 871.7,596.9 872.3,595.7 872.8,595.6 873.4,596.9 875.7,611.9 876.3,609.5 878.1,591.7 879.2,584.7 879.8,584.2 881.0,586.1 882.7,590.6 885.0,598.3 885.6,599.4 886.2,599.4 887.3,595.4 892.0,570.7 893.7,567.9 894.3,567.6 895.5,567.9 896.6,566.7 897.2,566.8 897.8,567.8 903.6,585.8 905.3,590.1 908.8,602.6 911.1,614.3 911.7,613.2 913.4,605.1 914.0,603.7 914.6,603.0 915.2,603.0 916.3,605.2 918.1,612.5 919.8,606.5 921.0,605.1 922.1,606.0 924.5,610.6 925.6,608.8 926.2,609.1 929.7,613.7 930.3,613.6 933.7,614.8 937.8,617.0 940.1,616.9 942.4,617.6 950.6,615.8 953.5,616.8 956.4,618.8 961.6,613.0 963.3,612.1 965.6,613.8 968.5,614.6 972.0,615.4 978.4,615.3 989.4,618.5 995.8,618.2 1000.4,618.4 1005.7,617.6 1010.9,617.9 1013.8,617.4 1019.0,617.4 1026.5,618.3 1031.8,617.3 1034.1,616.4 1036.4,616.4 1038.1,615.6 1040.5,615.4 1041.6,615.6 1043.9,616.9 1052.1,617.9 1067.7,618.6 1075.8,617.7 1079.9,616.8 1090.9,617.9 1101.4,614.6 1103.7,613.4 1108.3,614.9 1110.6,615.0 1112.4,616.1 1114.1,616.1 1115.9,616.7 1117.6,616.7 1122.2,617.7 1132.7,617.3 1135.6,617.7 1140.8,617.0 1145.4,617.5 1153.6,616.6 1159.9,618.6 1166.9,619.2 1173.9,618.3 1175.6,617.7 1180.8,612.7 1182.6,608.9 1183.7,607.8 1186.6,610.0 1188.9,611.1 1193.0,614.6 1194.7,615.5 1196.5,615.7 1198.8,614.7 1200.5,615.8 1201.7,616.1 1204.0,615.7 1211.0,615.5 1215.6,616.9 1219.7,617.5 1226.1,617.1 1230.7,613.3 1233.0,612.2 1235.9,608.5 1238.2,608.2 1240.6,610.7 1246.4,615.6 1250.4,616.9 1253.9,616.5 1258.0,617.5 1260.9,616.8 1264.9,614.5 1270.1,609.8 1271.3,609.3 1274.2,613.1 1277.1,614.3 1280.6,617.6 1282.3,618.2 1288.7,619.0 1293.9,619.1 1303.8,618.2 1320.6,619.3 1325.2,619.1 1329.3,618.0 1333.9,618.3 1336.3,617.6 1339.2,617.7 1341.5,617.1 1343.2,617.4 1345.5,616.8 1354.2,618.2 1358.9,618.5 1360.6,618.2 1362.9,617.0 1365.8,616.8 1368.2,617.2 1369.9,616.7 1373.4,616.6 1375.7,617.2 1378.6,616.5 1385.6,618.0 1389.6,618.1 1393.1,617.5 1406.4,618.9 1410.5,618.8" stroke="#D95319"/>
<polyline points="830.5,611.7 832.8,607.8 834.0,607.9 835.7,610.1 836.3,608.9 839.2,592.2 840.4,588.1 841.5,587.1 842.1,600.1 844.4,589.0 847.9,566.7 852.5,498.9 853.7,564.3 856.0,589.2 857.8,591.0 859.5,594.9 861.2,596.2 863.6,599.7 865.3,600.7 867.6,597.6 872.3,589.1 875.7,570.8 878.1,535.4 879.8,531.0 880.4,528.4 881.0,528.9 882.7,527.3 885.0,568.2 888.5,599.8 889.1,603.8 889.7,602.7 890.2,602.5 890.8,603.5 893.1,612.0 896.0,596.1 897.2,592.0 897.8,591.3 899.5,591.2 901.3,589.8 903.0,590.5 904.2,591.9 906.5,598.3 908.8,609.9 911.1,596.4 913.4,589.9 914.6,588.8 915.8,590.3 917.5,594.5 921.0,607.7 923.3,613.0 925.6,612.5 927.4,613.8 930.8,610.7 934.9,612.4 936.1,612.0 941.3,604.5 943.6,600.2 944.2,600.0 946.5,605.0 948.8,608.7 951.7,615.9 956.4,614.2 958.7,614.6 961.0,613.0 963.3,612.5 965.6,610.3 967.4,611.2 968.0,611.0 969.7,608.8 971.4,608.0 973.8,606.3 976.1,608.2 979.0,609.1 981.3,612.2 985.4,615.7 988.8,617.6 994.1,618.7 997.5,618.5 1002.8,616.4 1005.7,616.2 1009.7,611.7 1012.0,612.0 1014.4,609.6 1017.3,608.3 1020.7,608.5 1024.8,610.0 1028.9,613.9 1031.2,614.6 1032.9,616.1 1036.4,617.6 1038.7,618.2 1041.0,618.3 1044.5,617.2 1048.0,617.4 1055.0,616.2 1057.9,616.9 1061.3,617.0 1064.2,616.4 1066.6,616.8 1071.8,616.2 1078.7,618.0 1088.6,617.8 1097.3,618.8 1100.8,618.2 1103.7,618.2 1106.6,617.0 1112.4,615.8 1116.4,614.0 1118.8,612.3 1123.4,612.8 1125.7,612.1 1128.6,613.8 1130.4,613.8 1133.8,614.8 1136.7,614.2 1140.2,615.3 1143.7,612.8 1146.0,612.1 1147.8,610.6 1151.2,609.0 1153.0,610.2 1155.9,613.8 1159.9,615.5 1164.0,615.6 1166.3,614.9 1171.0,615.2 1173.9,614.7 1176.8,616.9 1179.1,616.8 1187.8,618.4 1193.6,618.3 1194.7,617.8 1199.4,613.5 1201.7,613.8 1203.4,613.5 1206.3,611.2 1209.2,610.0 1211.6,611.6 1214.5,610.9 1216.8,612.1 1219.1,611.0 1220.3,610.9 1223.7,613.7 1226.6,614.7 1230.7,614.9 1233.0,612.9 1234.8,612.0 1237.1,609.1 1240.0,607.8 1242.9,610.5 1245.2,614.2 1247.5,616.2 1251.0,616.6 1253.9,617.7 1260.9,618.3 1265.5,617.9 1268.4,618.6 1273.6,616.9 1275.4,615.4 1277.1,614.4 1279.4,611.1 1282.3,608.9 1284.6,605.5 1285.8,605.0 1287.5,604.9 1292.8,610.0 1294.5,611.2 1297.4,615.2 1300.3,615.4 1304.9,617.0 1307.3,617.0 1313.6,618.2 1317.1,617.5 1320.0,617.5 1325.2,615.5 1328.1,615.7 1331.0,614.9 1335.7,615.4 1338.0,614.2 1342.1,614.1 1346.1,611.4 1348.4,608.3 1351.3,607.3 1353.7,605.4 1354.8,606.0 1357.1,608.3 1360.6,610.3 1362.9,610.1 1364.1,610.4 1367.6,613.3 1371.1,617.4 1374.5,618.4 1378.0,618.4 1380.3,617.8 1382.7,617.7 1389.0,615.9 1390.8,616.1 1394.8,618.0 1402.4,618.3 1408.8,615.9 1410.5,614.6" stroke="#EDB120"/>
<polyline points="830.5,598.7 832.8,602.5 835.1,604.4 836.9,604.1 838.0,606.1 838.6,605.6 840.9,599.6 843.8,590.5 844.4,568.3 847.9,498.3 849.6,366.6 850.8,216.2 852.0,369.8 852.5,522.6 853.7,470.7 854.9,252.5 856.0,463.8 858.3,538.5 860.7,501.3 863.0,539.2 865.3,514.8 868.8,555.8 871.1,574.0 872.3,580.9 876.9,591.0 877.5,606.1 878.1,608.3 881.5,591.9 882.7,589.4 883.9,589.4 884.4,590.2 885.0,592.6 886.8,611.2 889.7,567.2 890.2,561.8 890.8,559.4 891.4,559.4 892.6,563.7 893.1,568.4 896.0,606.0 896.6,608.6 898.4,591.4 900.7,583.3 901.3,582.3 901.8,582.3 904.2,590.2 908.2,614.7 911.7,595.6 913.4,590.1 914.0,589.3 914.6,589.3 917.5,590.5 921.6,597.2 922.7,598.1 925.0,598.7 926.8,600.6 927.9,603.1 930.3,613.2 930.8,612.3 934.3,596.0 935.5,594.1 937.2,594.5 938.4,596.5 942.4,611.4 944.2,614.5 945.9,615.1 948.2,614.9 950.0,613.9 951.7,614.2 953.5,613.7 958.1,607.3 959.8,608.1 961.6,607.2 963.9,608.3 966.8,607.8 971.4,613.7 972.6,614.0 976.7,613.7 979.6,611.7 983.0,606.8 984.8,606.9 987.1,605.2 989.4,607.4 991.2,608.5 992.3,608.3 994.1,607.0 995.2,607.4 998.1,609.6 1002.2,608.4 1005.7,609.9 1009.1,612.5 1010.9,612.3 1012.6,612.7 1014.9,612.2 1017.8,614.4 1019.0,614.2 1021.9,612.5 1023.6,613.4 1025.4,613.7 1030.0,616.6 1036.4,618.2 1039.9,618.0 1042.2,616.8 1046.8,613.0 1050.9,608.1 1052.1,607.1 1053.8,607.5 1055.5,607.4 1058.4,608.9 1060.8,613.3 1062.5,615.6 1064.2,617.3 1066.6,618.3 1074.1,617.2 1078.7,614.5 1081.1,612.5 1083.4,611.8 1085.7,609.9 1086.9,610.3 1088.6,611.6 1090.3,612.0 1092.7,613.9 1095.6,614.7 1099.6,613.9 1101.9,614.6 1104.8,614.3 1107.7,614.8 1110.6,616.0 1113.0,615.9 1115.9,616.5 1121.7,616.0 1124.0,616.8 1126.3,616.2 1129.2,616.7 1132.1,615.4 1135.0,616.3 1138.5,616.0 1141.4,617.0 1143.7,616.6 1147.2,616.8 1150.7,615.6 1153.0,616.5 1155.9,617.1 1160.5,617.1 1162.8,617.5 1166.9,617.0 1172.7,614.9 1178.5,618.1 1179.7,618.3 1185.5,617.3 1188.4,616.3 1191.8,615.7 1195.9,614.2 1197.1,613.5 1199.4,610.8 1202.9,608.6 1205.2,610.1 1207.5,608.9 1208.1,609.0 1210.4,611.3 1213.9,612.6 1215.0,612.5 1220.8,607.9 1222.6,608.4 1223.2,608.2 1224.9,605.5 1226.1,604.7 1227.8,605.4 1230.7,608.5 1234.2,608.8 1236.5,611.2 1240.6,614.0 1241.7,613.8 1244.0,612.2 1245.8,611.7 1253.9,614.5 1256.2,613.9 1259.1,614.4 1261.4,614.0 1263.2,614.3 1264.9,613.8 1269.6,614.2 1272.5,613.7 1275.4,615.9 1279.4,618.0 1282.9,619.0 1286.4,618.9 1289.9,618.3 1293.3,616.4 1294.5,615.4 1298.0,609.4 1300.9,606.5 1303.8,605.0 1304.9,605.6 1309.6,611.5 1310.7,612.0 1311.9,611.8 1313.6,612.2 1317.7,610.9 1320.6,611.8 1321.8,611.7 1324.1,609.3 1327.0,610.5 1329.3,609.2 1331.6,606.7 1332.8,606.2 1333.9,607.1 1337.4,611.4 1340.3,616.4 1341.5,617.2 1345.5,618.0 1347.9,618.2 1349.0,617.8 1351.3,615.9 1353.7,614.8 1355.4,612.8 1357.7,611.3 1361.2,610.3 1364.7,612.1 1368.2,612.8 1372.2,611.7 1377.4,613.8 1379.8,615.6 1385.0,616.4 1388.5,616.0 1391.4,616.5 1398.9,615.3 1404.1,616.3 1406.4,617.1 1408.2,616.7 1410.5,616.9" stroke="#7E2F8E"/>
<polyline points="830.5,595.7 832.8,578.9 834.6,518.7 835.7,235.5 836.9,489.6 837.5,489.3 839.2,504.6 842.1,564.2 844.4,583.5 846.7,590.9 847.3,591.6 849.1,592.1 849.6,592.8 852.0,597.7 853.7,600.3 854.3,603.7 855.4,601.6 857.2,600.0 859.5,595.7 860.1,596.4 862.4,604.1 863.6,605.8 864.7,605.8 865.9,603.4 866.5,600.8 869.4,582.7 869.9,581.4 870.5,581.0 871.7,581.4 872.3,580.9 874.0,578.1 875.2,579.3 876.9,583.5 880.4,597.5 884.4,607.4 885.0,608.0 886.8,605.8 887.3,605.7 888.5,606.6 890.2,609.0 895.5,598.6 897.8,598.1 898.9,596.6 900.1,596.1 901.8,597.8 904.2,602.0 904.7,602.3 905.3,602.1 907.1,600.3 907.6,600.2 908.2,600.7 912.3,613.6 914.0,609.7 915.2,608.5 916.9,609.2 918.7,609.2 922.7,612.3 923.9,612.0 927.9,613.0 931.4,615.2 934.3,618.1 936.1,618.8 941.9,618.5 943.0,618.0 946.5,615.0 950.0,610.6 951.1,609.7 954.0,609.5 956.4,610.6 959.3,610.4 961.6,611.9 968.5,612.5 974.3,614.9 977.2,614.4 979.0,614.7 980.1,614.3 980.7,613.5 983.0,608.9 984.2,607.4 988.8,607.8 991.2,607.0 992.3,607.8 996.4,612.4 999.3,614.1 1003.3,615.5 1004.5,615.2 1009.7,612.2 1012.6,608.2 1015.5,607.9 1017.3,609.0 1019.0,608.8 1019.6,609.1 1021.9,612.6 1025.4,616.0 1027.7,616.6 1029.4,616.0 1030.6,615.1 1032.3,612.9 1034.1,609.4 1037.0,606.4 1040.5,605.5 1042.8,607.9 1045.1,609.5 1048.6,614.7 1052.6,617.1 1058.4,617.1 1061.3,615.8 1063.1,616.2 1070.0,615.6 1072.4,616.2 1074.7,615.1 1082.2,614.0 1086.3,611.9 1088.6,611.9 1089.8,612.4 1095.0,617.9 1097.3,618.8 1100.2,619.2 1107.2,618.5 1110.1,617.5 1113.0,617.9 1115.9,617.5 1118.8,618.0 1124.6,616.7 1128.0,614.7 1132.1,609.2 1133.3,608.3 1137.3,606.1 1140.2,605.7 1142.5,606.6 1144.3,605.5 1147.8,612.8 1153.6,616.7 1157.0,618.3 1158.8,618.6 1162.8,618.2 1166.9,615.7 1170.4,614.8 1173.3,615.0 1175.6,613.7 1179.1,613.8 1182.6,614.9 1188.4,615.5 1192.4,613.2 1195.9,607.4 1197.6,606.3 1199.4,604.1 1200.0,604.1 1202.3,606.9 1204.6,606.0 1205.8,606.2 1206.9,608.0 1209.2,613.6 1212.7,616.3 1213.9,616.6 1216.2,616.3 1219.7,616.4 1226.1,612.8 1228.4,612.7 1230.1,612.1 1233.0,613.9 1236.5,615.1 1245.2,616.2 1248.1,617.7 1253.9,617.6 1255.6,617.0 1260.9,613.2 1262.6,612.9 1264.9,611.9 1268.4,613.1 1270.1,615.0 1273.6,617.6 1278.3,617.8 1280.6,617.0 1283.5,614.9 1287.0,614.8 1289.3,614.2 1292.8,611.7 1296.2,610.4 1304.4,610.7 1307.8,609.5 1310.7,612.1 1316.0,615.6 1318.9,616.6 1321.2,616.3 1324.7,617.1 1328.1,615.4 1331.6,615.2 1334.5,614.1 1339.2,614.1 1340.3,613.3 1342.6,610.6 1343.8,610.1 1346.1,609.9 1348.4,612.1 1349.6,612.7 1357.7,610.7 1358.9,609.9 1360.6,607.6 1362.4,608.0 1365.3,605.4 1369.3,606.9 1372.8,611.2 1375.1,612.8 1380.3,613.6 1382.1,613.4 1385.0,614.5 1388.5,614.4 1390.8,615.8 1396.6,617.5 1399.5,617.3 1402.4,617.8 1408.2,616.7 1410.5,617.0" stroke="#77AC30"/>
<polyline points="830.5,618.0 834.0,611.7 836.9,610.4 838.0,610.7 838.6,611.2 842.1,616.0 843.3,616.4 843.8,616.2 845.6,613.6 847.9,606.3 850.2,602.0 850.8,602.1 853.7,608.6 854.9,610.0 856.0,610.4 858.3,609.5 861.2,607.1 863.0,606.3 864.1,606.8 865.9,608.3 866.5,608.1 868.2,605.3 868.8,605.2 870.5,607.3 871.1,607.5 872.8,606.8 875.2,607.4 877.5,605.0 878.1,604.6 878.6,604.8 880.4,608.3 882.7,615.8 885.0,611.5 886.2,611.6 887.3,613.4 890.2,601.5 893.7,594.5 894.9,593.5 896.0,594.6 898.4,600.2 901.3,612.3 903.6,603.3 904.2,602.3 905.3,601.9 906.5,603.5 910.5,615.4 911.1,615.6 912.3,614.4 915.2,614.3 921.6,611.0 925.0,611.7 926.2,612.9 927.4,615.2 927.9,615.0 930.8,609.1 932.0,608.2 933.2,608.0 934.3,608.4 934.9,609.2 937.2,615.1 938.4,616.6 940.7,614.7 945.9,613.3 948.2,614.8 951.1,615.2 953.5,616.6 957.5,615.1 961.0,616.5 966.2,617.1 971.4,617.0 975.5,616.2 978.4,614.7 981.9,616.2 984.8,616.7 987.7,616.3 990.0,616.5 992.9,615.9 994.6,616.7 997.5,616.8 1002.8,618.6 1005.7,619.2 1013.2,617.5 1017.3,616.0 1027.7,616.5 1030.0,616.0 1032.3,617.1 1033.5,617.2 1037.6,615.5 1040.5,615.6 1043.4,613.3 1045.1,612.5 1046.8,612.5 1049.7,613.6 1050.9,613.2 1052.6,611.9 1055.0,614.0 1059.0,614.7 1064.2,617.4 1066.6,616.9 1069.5,617.3 1071.8,616.6 1074.1,616.6 1078.2,615.0 1080.5,615.3 1085.1,614.6 1086.9,614.0 1089.2,612.3 1090.3,612.7 1094.4,616.4 1099.0,617.8 1104.8,618.8 1114.7,618.9 1118.2,618.5 1122.2,617.6 1127.5,615.3 1129.8,616.4 1131.5,616.6 1135.0,614.0 1137.3,614.3 1139.1,613.4 1141.4,614.3 1143.7,613.6 1151.2,616.4 1153.6,618.0 1154.7,618.4 1159.9,619.3 1166.9,619.0 1169.2,618.5 1171.5,616.4 1179.1,604.5 1180.2,603.7 1182.6,604.6 1186.0,608.6 1187.8,608.8 1193.0,610.6 1195.3,609.5 1197.6,611.9 1202.9,613.2 1205.2,612.9 1206.9,614.4 1208.1,614.8 1211.0,614.3 1213.9,614.9 1216.2,613.7 1219.7,615.4 1223.7,613.8 1225.5,614.3 1226.6,613.7 1231.9,608.9 1233.6,608.8 1237.7,609.8 1240.0,614.1 1241.1,615.1 1243.5,615.7 1249.8,618.5 1253.3,618.9 1258.5,618.5 1266.1,615.6 1271.9,617.3 1274.2,617.3 1277.1,618.2 1285.2,617.5 1291.6,618.1 1296.2,617.4 1298.6,617.8 1304.9,617.0 1308.4,615.1 1310.7,614.6 1313.1,613.2 1315.4,613.8 1320.0,613.3 1327.6,606.2 1331.0,609.1 1337.4,607.3 1340.3,611.0 1341.5,611.6 1343.2,611.5 1346.7,614.8 1351.3,612.4 1353.7,613.2 1356.6,613.0 1359.5,613.6 1362.4,609.4 1364.1,608.4 1367.0,609.8 1368.7,609.3 1369.9,609.4 1372.8,612.6 1374.5,612.7 1377.4,614.0 1380.3,614.2 1382.7,613.7 1385.0,614.2 1387.3,612.3 1390.8,614.3 1395.4,614.5 1399.5,616.2 1400.6,615.6 1403.0,613.1 1404.1,613.1 1406.4,613.9 1409.3,612.3 1410.5,612.4" stroke="#4DBEEE"/>
<polyline points="830.5,611.6 831.1,611.5 832.2,612.7 832.8,591.0 836.3,561.5 838.0,526.7 839.8,552.2 842.1,554.6 844.4,582.0 847.9,554.5 850.2,515.6 852.5,415.4 853.7,253.0 854.3,421.9 856.0,524.4 857.8,528.9 860.1,540.4 862.4,545.1 866.5,561.7 867.6,561.9 868.2,561.2 871.1,550.6 874.6,570.4 877.5,579.0 879.2,582.7 882.7,567.2 886.2,587.9 886.8,610.2 887.3,610.5 887.9,609.9 888.5,608.1 891.4,587.7 893.1,578.4 893.7,576.1 894.3,575.4 895.5,580.1 898.9,612.4 900.7,603.8 902.4,600.3 903.6,600.0 905.3,601.4 907.1,601.3 908.2,602.9 911.7,615.0 914.0,601.7 915.2,598.0 915.8,598.4 916.3,600.4 918.7,615.7 921.0,598.4 921.6,596.2 922.1,595.3 922.7,595.2 923.9,596.1 925.0,598.3 927.9,609.7 929.1,612.2 929.7,612.5 930.3,612.2 933.7,605.6 934.3,605.0 935.5,604.7 937.2,605.8 941.3,613.1 943.0,614.4 945.9,612.0 948.2,611.4 948.8,610.8 951.7,603.9 952.9,602.3 954.0,603.1 956.9,608.3 957.5,609.0 958.7,608.8 959.3,609.4 963.3,614.9 964.5,615.5 970.9,614.2 977.8,608.4 981.3,607.6 983.6,607.9 987.1,609.7 992.9,610.0 994.1,609.6 995.8,608.1 996.4,608.1 998.1,609.5 998.7,609.5 1001.0,608.0 1003.3,610.3 1005.7,610.4 1008.0,613.8 1012.6,615.9 1017.8,615.6 1021.9,613.0 1023.6,612.8 1025.4,611.9 1027.1,611.8 1028.3,612.1 1030.6,613.8 1032.9,614.2 1038.7,616.6 1041.6,617.2 1045.1,616.0 1048.0,616.0 1051.5,613.9 1056.1,612.6 1057.3,613.2 1060.2,616.8 1065.4,618.0 1070.6,618.4 1082.8,618.6 1088.0,616.7 1090.3,615.1 1092.7,615.1 1095.0,614.5 1097.9,614.5 1100.8,616.3 1103.7,617.0 1111.2,617.5 1114.1,615.9 1116.4,615.7 1119.3,614.0 1121.7,615.0 1123.4,614.5 1125.7,615.6 1128.0,615.0 1132.7,615.7 1134.4,615.5 1136.7,616.1 1141.4,615.8 1143.1,616.5 1146.0,616.5 1151.2,617.4 1154.1,616.7 1158.2,612.8 1160.5,611.9 1162.3,612.8 1164.6,614.8 1167.5,614.8 1169.8,616.4 1172.1,616.8 1175.0,618.0 1178.5,618.2 1182.0,617.3 1187.2,617.5 1193.6,618.4 1197.6,618.3 1201.1,617.4 1204.0,615.7 1205.8,615.3 1208.1,612.8 1210.4,613.8 1211.0,613.7 1212.7,612.1 1213.9,611.6 1216.8,612.3 1219.7,611.6 1222.0,613.0 1223.7,613.1 1225.5,613.8 1227.8,612.8 1230.7,614.8 1232.4,614.9 1235.3,613.4 1237.7,612.9 1240.0,611.0 1242.3,606.6 1243.5,605.4 1247.5,604.8 1251.0,605.2 1256.2,606.7 1259.7,609.9 1263.2,611.0 1266.1,614.1 1270.7,614.2 1275.4,616.7 1280.6,617.4 1282.9,617.1 1285.8,617.2 1287.0,616.7 1289.3,614.7 1291.6,614.6 1293.9,610.6 1295.1,609.8 1300.3,609.8 1302.6,609.0 1304.9,611.0 1307.8,611.8 1310.7,608.7 1311.3,608.5 1313.1,609.3 1314.8,609.0 1316.0,609.2 1322.3,614.0 1325.2,613.5 1328.1,613.9 1331.0,613.3 1333.9,610.5 1336.3,608.9 1340.9,607.1 1342.6,608.4 1344.4,608.7 1346.7,612.1 1350.8,615.1 1353.7,614.1 1356.6,614.7 1360.6,613.6 1362.9,614.3 1365.8,613.7 1370.5,616.3 1373.4,614.6 1375.7,614.5 1378.6,610.5 1382.1,608.2 1382.7,608.1 1385.0,608.6 1387.9,607.2 1389.0,607.8 1391.9,613.0 1394.8,613.4 1397.7,615.4 1400.6,617.9 1404.7,618.7 1410.5,618.4" stroke="#A2142F"/>
<polyline points="830.5,610.4 832.8,610.0 835.1,610.9 836.9,611.1 838.0,612.2 838.6,611.7 840.9,604.2 843.3,599.1 844.4,597.4 847.3,594.7 849.6,598.6 851.4,600.1 852.5,603.2 853.1,603.3 854.3,601.8 854.9,602.0 857.2,604.5 858.3,606.7 858.9,607.1 860.1,604.4 861.2,603.1 863.6,603.7 864.7,605.5 867.0,612.4 867.6,612.6 868.8,609.1 871.7,603.5 872.3,602.8 874.0,602.4 875.2,602.6 876.3,603.3 877.5,603.0 879.8,599.1 882.1,592.4 882.7,591.6 885.0,590.8 886.2,591.7 887.3,593.6 890.8,604.8 892.6,603.6 893.1,604.2 896.0,610.5 901.8,610.2 905.9,611.8 910.0,608.4 915.2,607.1 919.8,611.0 921.6,613.7 923.9,610.7 926.2,609.4 927.4,609.4 928.5,610.9 929.1,614.0 933.2,607.8 937.2,599.5 940.7,587.4 941.3,587.8 943.0,588.0 946.5,604.9 950.0,605.8 952.3,608.2 953.5,608.7 954.0,614.3 956.4,614.1 959.3,615.6 963.9,617.2 969.7,618.1 973.8,617.6 976.7,615.4 982.5,611.9 985.9,613.2 988.3,615.4 991.2,616.3 994.1,616.2 997.0,615.2 998.7,615.4 1001.6,614.6 1003.9,614.7 1005.7,614.2 1009.7,616.3 1012.0,616.3 1016.1,617.1 1018.4,615.7 1021.3,615.4 1024.8,612.8 1026.5,613.0 1028.9,611.4 1031.2,612.2 1031.8,612.0 1034.1,609.7 1037.0,611.5 1039.3,610.9 1041.6,611.4 1043.4,610.7 1046.8,612.7 1049.7,613.4 1052.1,614.6 1055.5,615.1 1057.9,616.0 1060.2,615.4 1062.5,615.8 1067.7,615.5 1070.6,616.3 1073.5,615.9 1077.6,617.4 1084.5,617.7 1088.6,616.6 1092.7,616.6 1095.6,615.2 1102.5,616.3 1106.0,617.8 1110.6,617.7 1113.5,617.0 1119.9,613.0 1124.0,612.4 1128.0,613.7 1130.9,613.0 1133.8,613.3 1136.7,614.6 1138.5,614.2 1140.8,612.9 1144.3,612.0 1148.3,614.9 1151.2,615.2 1153.6,616.0 1158.2,614.5 1159.4,613.5 1160.5,611.8 1162.8,606.1 1165.2,603.1 1166.3,603.2 1168.1,604.2 1171.5,602.3 1172.7,602.1 1176.2,603.8 1179.1,603.6 1180.2,604.2 1183.1,609.8 1186.6,614.0 1188.4,614.6 1190.1,614.4 1192.4,615.7 1194.2,616.1 1197.1,615.4 1198.8,615.5 1201.1,614.7 1204.0,615.8 1207.5,615.1 1210.4,615.2 1213.3,613.3 1216.2,614.7 1219.1,614.8 1221.4,615.9 1224.9,614.4 1227.2,614.9 1230.1,614.4 1232.4,611.3 1235.9,609.4 1238.2,606.0 1240.6,605.6 1244.0,604.1 1245.2,605.0 1248.1,611.1 1252.2,616.7 1253.9,617.6 1259.1,618.4 1263.2,618.1 1264.9,618.4 1267.8,618.3 1271.9,618.9 1278.8,618.8 1287.5,615.0 1293.3,613.4 1297.4,615.1 1299.7,615.6 1302.6,617.1 1309.6,618.0 1313.1,618.0 1316.5,617.2 1318.3,616.2 1319.4,615.4 1321.8,612.5 1325.8,610.5 1328.7,613.9 1332.2,616.2 1336.8,616.0 1342.6,614.6 1345.0,615.7 1346.7,615.7 1350.2,617.3 1355.4,617.6 1361.2,615.0 1365.3,611.4 1368.7,606.7 1372.8,604.2 1373.4,604.2 1374.0,604.9 1375.7,608.7 1378.0,610.9 1380.3,614.5 1381.5,615.6 1386.7,615.2 1389.0,614.6 1392.5,613.3 1395.4,610.9 1397.7,610.4 1398.9,610.8 1401.2,613.0 1404.7,615.2 1407.0,617.4 1410.5,618.1" stroke="#0072BD"/>
<polyline points="830.5,616.8 834.6,615.6 839.2,616.7 844.4,616.1 845.6,615.5 848.5,612.7 853.1,611.4 853.7,577.7 855.4,568.5 857.8,550.7 860.7,536.7 861.8,526.5 866.5,560.6 869.9,547.4 874.6,575.9 876.9,583.4 877.5,583.7 879.2,587.3 882.7,592.0 883.3,617.2 885.6,616.0 890.2,614.8 891.4,615.2 894.9,617.9 896.6,617.0 898.4,616.7 901.8,617.1 908.8,617.2 915.2,615.2 919.2,615.9 925.0,614.9 927.4,615.1 930.8,613.3 934.9,613.6 938.4,616.1 941.3,617.4 955.8,619.4 963.9,619.0 973.2,619.1 980.7,618.2 990.6,618.8 998.1,617.0 1000.4,615.9 1004.5,614.7 1008.6,616.3 1017.3,617.8 1024.2,616.3 1029.4,613.6 1034.1,609.1 1036.4,609.5 1038.7,607.1 1039.3,607.4 1042.2,612.1 1047.4,616.4 1050.3,617.9 1053.2,617.5 1056.1,618.2 1066.0,619.2 1073.5,619.3 1077.6,619.0 1081.1,617.3 1083.4,617.4 1086.9,615.4 1089.2,616.8 1090.3,617.1 1096.7,617.4 1104.3,616.8 1106.6,617.7 1117.0,618.1 1120.5,617.2 1125.7,616.7 1129.2,614.2 1134.4,608.7 1136.2,608.0 1138.5,606.3 1140.8,607.3 1143.7,609.9 1146.6,615.0 1149.5,617.8 1153.0,618.9 1158.2,619.3 1170.4,618.8 1179.1,617.7 1197.6,619.3 1214.5,617.4 1220.3,618.5 1224.9,618.2 1226.6,617.9 1229.0,616.9 1231.9,617.0 1234.2,616.6 1239.4,614.0 1245.8,613.2 1248.7,614.2 1251.0,614.3 1253.3,615.4 1256.2,615.0 1262.0,617.6 1265.5,617.7 1277.1,617.5 1285.8,615.2 1287.5,614.2 1289.9,614.2 1291.6,613.7 1293.9,615.2 1296.2,615.4 1299.1,617.0 1300.9,617.1 1306.1,615.5 1309.0,613.5 1311.9,612.3 1314.2,613.8 1316.5,613.5 1319.4,616.2 1321.2,617.0 1326.4,616.0 1332.2,616.0 1337.4,614.2 1340.9,614.9 1347.9,614.1 1349.6,613.5 1351.3,613.6 1353.7,612.0 1356.0,613.0 1357.7,613.1 1360.6,615.5 1365.3,617.6 1368.2,618.1 1373.4,617.6 1375.7,618.3 1379.2,617.9 1387.9,619.2 1393.7,618.9 1397.7,619.3 1401.2,618.4 1405.9,618.2 1408.8,618.6 1410.5,618.2" stroke="#D95319"/>
<polyline points="830.5,609.0 833.4,614.5 836.3,610.1 837.5,609.3 838.6,610.3 840.4,613.8 840.9,612.8 845.0,597.8 845.6,596.4 846.2,596.1 847.3,599.1 850.2,614.0 851.4,609.2 852.0,608.2 854.3,477.1 855.4,353.8 856.6,495.7 858.3,562.1 860.7,580.3 861.2,608.1 861.8,612.9 862.4,611.9 863.6,606.3 864.1,605.2 864.7,605.1 865.9,607.4 867.6,612.6 868.8,614.1 869.4,613.8 870.5,611.1 874.0,599.2 875.2,597.6 877.5,597.7 878.1,597.3 880.4,590.1 881.0,589.0 881.5,588.8 882.7,590.2 883.9,593.6 886.2,610.9 888.5,591.8 889.1,588.7 890.2,586.0 890.8,586.2 891.4,587.0 892.6,591.0 894.9,606.0 896.6,613.3 897.8,611.5 898.4,611.2 900.1,611.4 901.3,610.8 903.6,605.4 904.7,604.1 905.9,604.6 906.5,605.7 908.2,612.1 908.8,612.6 910.5,605.7 911.1,604.4 912.3,603.5 913.4,604.2 914.0,605.4 916.3,614.1 919.2,610.6 922.1,609.5 923.3,610.8 925.0,614.1 927.9,609.8 929.1,609.0 930.3,609.0 931.4,610.1 933.7,614.7 936.6,616.1 939.5,618.1 942.4,617.3 944.8,617.2 947.1,615.9 951.1,614.8 952.9,616.0 963.3,616.6 966.8,616.7 971.4,615.6 976.7,615.8 985.4,618.2 991.7,617.3 996.4,617.0 1008.6,617.2 1018.4,618.5 1027.7,616.5 1031.8,614.7 1035.8,615.9 1045.1,616.2 1047.4,614.4 1050.3,614.6 1052.1,613.6 1055.5,614.4 1059.6,616.7 1064.2,617.6 1066.6,618.6 1068.9,619.1 1081.6,619.1 1086.9,618.9 1089.8,618.3 1102.5,618.6 1110.6,617.8 1113.5,616.9 1116.4,617.9 1120.5,617.4 1125.1,617.7 1128.0,618.3 1131.5,618.4 1137.3,617.6 1140.2,616.0 1143.1,616.6 1146.0,615.2 1148.9,615.7 1153.6,615.8 1157.6,616.9 1161.7,617.0 1168.6,613.1 1171.0,612.8 1173.9,611.2 1176.8,611.2 1177.9,611.8 1179.7,614.0 1185.5,617.2 1191.8,618.5 1197.1,618.3 1202.9,616.5 1205.8,614.7 1210.4,614.0 1215.6,615.7 1217.9,616.8 1220.3,616.9 1226.6,614.7 1230.7,609.7 1234.8,607.2 1237.1,608.6 1239.4,608.4 1240.6,608.8 1248.7,614.2 1255.6,617.5 1259.7,618.8 1263.8,619.4 1280.0,619.6 1288.7,619.0 1294.5,617.9 1297.4,616.0 1298.6,615.8 1303.8,616.0 1309.6,618.7 1314.8,619.0 1318.9,618.7 1322.3,617.5 1325.2,617.3 1331.0,614.9 1335.7,615.1 1338.0,616.2 1341.5,616.6 1347.3,614.6 1350.2,616.3 1356.6,616.7 1366.4,618.7 1369.9,618.9 1375.1,617.8 1380.3,613.5 1383.8,612.6 1385.6,612.7 1387.9,610.8 1392.5,614.3 1394.3,614.8 1396.6,614.6 1399.5,616.1 1402.4,616.0 1404.7,615.3 1410.5,615.4" stroke="#EDB120"/>
<polyline points="830.5,606.9 834.0,616.4 834.6,616.2 836.3,613.7 837.5,613.0 838.0,613.3 839.2,615.6 839.8,616.0 841.5,609.1 843.8,595.8 846.2,588.7 846.7,588.0 847.3,588.1 848.5,589.1 850.2,589.8 852.0,591.7 852.5,591.5 854.3,589.0 856.0,587.9 856.6,586.5 858.9,572.8 860.1,570.4 862.4,568.3 863.0,568.3 867.6,582.0 868.2,581.7 869.4,579.4 869.9,579.0 870.5,579.4 872.3,582.9 873.4,586.7 876.3,601.7 878.1,606.4 879.2,607.7 882.7,609.7 886.2,608.2 887.9,608.3 889.1,609.6 890.8,614.9 894.3,595.0 895.5,590.6 896.0,589.8 896.6,590.3 897.8,595.9 900.1,615.0 904.2,585.0 905.9,578.4 907.1,576.4 908.2,579.8 912.9,610.0 914.6,616.9 916.9,607.5 918.1,605.7 918.7,605.7 919.8,607.1 922.1,615.6 922.7,615.8 925.0,605.2 926.2,602.6 927.9,600.9 929.1,601.4 930.3,603.2 933.2,609.9 934.9,615.3 935.5,615.9 938.4,609.0 939.5,607.7 940.7,607.3 942.4,609.0 947.1,617.0 950.0,615.2 951.1,615.1 954.6,617.5 958.7,617.8 961.0,618.7 964.5,616.9 968.0,617.5 970.9,618.9 974.9,617.7 979.0,618.4 981.9,616.7 985.4,616.0 987.7,616.1 990.6,617.2 995.8,617.3 999.9,616.8 1003.3,615.4 1007.4,615.5 1009.7,614.6 1012.6,616.0 1013.8,616.2 1016.1,615.5 1017.8,615.5 1020.2,614.4 1021.9,614.2 1024.8,614.8 1026.5,614.5 1028.9,616.2 1030.6,616.4 1032.9,617.9 1037.0,618.9 1043.9,619.2 1053.2,618.5 1053.8,618.4 1054.4,613.6 1057.3,606.0 1060.2,595.1 1061.3,592.0 1062.5,590.8 1063.7,592.4 1065.4,598.3 1067.7,602.6 1070.0,608.6 1074.1,613.4 1074.7,614.8 1077.6,616.5 1085.7,618.5 1097.9,618.2 1106.0,617.2 1108.9,618.2 1115.3,618.4 1117.6,619.0 1118.2,612.2 1122.8,593.0 1124.0,589.6 1125.1,589.0 1126.3,588.9 1126.9,589.4 1128.6,594.7 1129.8,597.0 1131.5,596.9 1133.3,598.0 1134.4,596.3 1136.7,590.0 1137.9,588.6 1138.5,588.8 1139.6,590.9 1145.4,607.6 1146.6,609.7 1149.5,612.6 1150.1,616.9 1158.8,614.7 1162.8,614.6 1164.6,614.9 1170.4,617.6 1175.6,618.5 1180.2,617.6 1183.7,617.8 1189.5,616.5 1191.8,615.1 1195.3,615.1 1198.2,615.9 1200.5,615.7 1202.9,616.9 1208.1,617.1 1211.0,618.1 1212.7,618.2 1218.5,617.8 1222.0,615.8 1224.9,614.9 1228.4,615.7 1232.4,614.2 1235.3,612.1 1238.2,612.9 1241.1,611.7 1242.3,612.3 1244.6,615.8 1245.8,616.9 1248.7,618.1 1252.7,619.2 1255.6,619.5 1287.5,619.4 1293.3,618.9 1298.0,618.1 1300.9,617.2 1304.4,617.0 1310.7,618.8 1318.3,618.7 1324.1,617.2 1326.4,617.0 1329.3,617.5 1331.6,617.2 1334.5,617.9 1343.8,616.9 1346.7,615.1 1351.3,613.9 1354.2,614.3 1356.6,615.5 1361.8,617.1 1364.7,617.1 1367.0,617.7 1371.1,617.0 1375.7,617.7 1381.5,617.7 1384.4,618.6 1390.8,619.3 1400.1,618.9 1405.3,618.2 1410.5,618.9" stroke="#7E2F8E"/>
<polyline points="830.5,613.1 833.4,609.3 836.3,604.2 838.6,604.9 841.5,604.8 843.8,606.2 845.0,606.4 846.2,606.2 847.9,603.3 850.8,601.6 852.5,604.3 853.7,603.9 855.4,601.9 856.0,602.0 857.2,603.9 857.8,603.4 860.1,598.0 861.2,597.5 863.6,598.5 865.9,601.1 867.6,600.8 868.2,601.3 871.7,605.8 875.2,613.7 876.3,614.7 876.9,614.4 878.1,614.8 878.6,614.6 879.8,612.5 883.9,601.0 885.0,599.6 886.2,600.2 887.9,599.7 888.5,600.2 892.6,609.0 894.9,607.6 898.4,609.5 900.7,611.4 901.8,611.0 903.0,611.1 907.1,613.3 908.8,612.9 910.5,613.8 911.7,613.8 914.6,611.5 916.9,612.1 919.2,613.6 920.4,613.8 923.3,612.4 925.6,610.2 929.7,610.4 931.4,611.3 933.7,610.7 937.8,615.1 941.9,615.8 946.5,615.4 951.1,611.5 956.4,613.9 961.6,614.8 966.2,613.7 969.1,615.0 971.4,613.5 973.2,613.6 976.1,611.3 977.8,610.7 980.7,611.0 983.0,613.0 984.8,613.9 985.9,613.9 987.7,613.2 989.4,614.2 991.7,614.7 994.1,616.0 995.2,616.1 997.5,615.4 1000.4,616.5 1002.2,615.5 1008.0,609.6 1010.9,607.9 1013.2,608.2 1015.5,607.8 1017.3,607.0 1020.7,609.1 1021.9,609.1 1023.6,608.3 1024.2,608.5 1027.1,613.1 1028.3,613.8 1031.8,614.8 1034.7,616.8 1038.1,617.6 1048.0,618.9 1052.6,618.4 1057.3,615.8 1059.6,614.0 1061.9,613.8 1064.2,612.6 1065.4,613.2 1067.1,615.4 1069.5,617.5 1072.4,618.7 1075.3,619.1 1090.3,619.1 1093.8,617.9 1097.9,615.1 1100.2,614.5 1103.7,612.7 1104.8,613.3 1107.2,616.4 1108.3,617.1 1111.2,617.1 1113.5,618.2 1118.2,617.9 1126.9,619.1 1132.7,618.3 1143.7,613.6 1146.0,613.8 1148.3,615.3 1152.4,615.0 1156.5,616.5 1162.3,616.9 1164.6,617.7 1166.9,617.7 1169.2,618.3 1172.7,617.4 1176.2,617.4 1180.8,618.5 1188.4,618.3 1190.1,617.9 1193.0,615.9 1195.3,613.8 1197.6,610.5 1199.4,610.7 1201.7,609.9 1208.1,611.7 1211.0,614.5 1213.3,614.9 1218.5,617.3 1228.4,616.0 1231.3,614.3 1234.8,613.7 1237.1,612.2 1239.4,613.8 1241.1,613.7 1244.6,614.7 1248.1,616.6 1252.2,617.0 1253.9,616.4 1256.2,616.4 1260.3,615.5 1263.2,617.0 1271.9,617.8 1275.9,617.2 1278.3,615.9 1280.6,615.8 1282.3,615.2 1285.8,615.5 1290.4,614.4 1292.2,614.4 1293.3,613.7 1295.1,611.7 1296.8,610.9 1299.1,608.9 1301.5,611.0 1304.4,612.4 1306.7,612.6 1310.7,614.9 1311.9,614.8 1313.6,613.8 1315.4,613.6 1318.3,615.1 1320.6,614.6 1323.5,614.6 1326.4,615.4 1329.3,616.8 1332.2,617.3 1336.8,617.5 1342.6,616.6 1344.4,616.7 1347.3,615.2 1348.4,613.9 1350.8,609.6 1351.9,608.5 1352.5,608.7 1354.8,611.2 1357.1,611.3 1358.3,611.7 1360.0,613.4 1362.4,614.4 1365.3,616.9 1368.2,616.9 1370.5,615.8 1373.4,616.3 1383.2,614.6 1386.7,615.8 1389.6,614.7 1391.9,615.8 1394.3,615.9 1397.2,617.1 1404.1,618.7 1410.5,619.4" stroke="#77AC30"/>
<polyline points="830.5,602.8 831.7,600.4 834.0,598.8 835.1,599.0 836.9,600.1 837.5,599.8 842.1,592.4 846.2,583.3 846.7,583.1 848.5,585.5 850.2,586.4 853.1,592.1 854.3,593.2 854.9,593.1 856.6,591.5 858.3,586.9 859.5,585.0 861.2,584.8 863.0,585.5 865.9,584.1 868.2,576.9 868.8,575.4 869.4,575.2 870.5,579.6 875.7,615.3 877.5,608.8 878.6,607.3 879.8,608.1 880.4,609.5 881.5,614.4 884.4,595.9 885.6,591.5 886.2,591.5 886.8,593.2 889.7,609.2 890.2,609.1 892.0,599.4 892.6,597.9 893.7,597.0 894.9,598.1 896.6,601.0 898.4,602.1 900.7,606.0 904.2,608.6 907.6,615.4 908.2,615.8 909.4,614.3 910.5,613.6 911.7,613.1 914.6,613.2 916.9,612.0 919.2,609.9 922.7,604.3 925.0,599.2 925.6,598.9 926.8,601.2 929.1,608.8 930.3,610.5 932.0,611.4 933.2,612.8 935.5,611.8 937.2,610.0 940.1,608.0 943.0,609.8 947.1,615.7 947.7,615.4 950.0,612.2 951.7,610.9 954.0,611.0 956.4,612.0 959.8,612.7 962.7,611.3 965.1,611.0 968.0,609.0 970.3,609.8 971.4,609.7 974.9,611.0 977.8,613.8 980.7,614.2 985.4,617.0 988.3,616.5 991.7,617.4 994.6,616.7 999.3,617.9 1008.0,618.2 1010.9,618.8 1018.4,618.6 1028.3,616.6 1031.8,617.1 1034.7,616.1 1037.6,616.4 1041.0,615.9 1045.1,614.5 1047.4,612.2 1049.2,612.8 1050.9,612.9 1054.4,616.4 1058.4,617.4 1064.2,616.9 1068.3,615.2 1070.6,616.4 1078.2,618.2 1082.8,618.7 1085.7,618.3 1088.6,618.5 1091.5,617.9 1096.1,617.9 1100.2,618.7 1107.2,618.3 1110.1,617.6 1119.3,616.5 1122.2,615.6 1125.1,615.2 1129.2,612.4 1130.9,613.4 1133.3,612.9 1135.6,613.6 1139.1,611.2 1141.4,611.8 1145.4,611.8 1148.9,614.8 1153.6,617.5 1160.5,618.2 1162.3,617.9 1165.2,616.3 1170.4,616.5 1172.7,615.4 1177.9,617.2 1180.2,616.5 1186.6,616.8 1193.0,615.4 1195.3,615.5 1200.0,614.8 1202.3,615.6 1204.6,615.7 1209.2,616.7 1213.3,616.6 1215.6,616.2 1219.1,617.1 1223.2,616.5 1226.1,614.9 1229.5,611.7 1231.3,607.6 1232.4,606.0 1234.2,606.5 1234.8,606.3 1237.1,602.9 1238.8,603.2 1240.6,602.5 1242.9,603.8 1246.9,603.7 1252.7,608.8 1254.5,608.7 1255.6,609.6 1256.2,609.5 1257.4,608.3 1258.5,608.3 1260.9,609.5 1264.3,612.7 1267.2,614.5 1270.1,615.4 1273.6,615.5 1280.0,617.5 1282.9,617.2 1286.4,615.7 1291.6,615.4 1296.2,611.8 1298.0,613.0 1299.1,613.1 1300.9,611.6 1302.6,608.4 1303.8,607.3 1305.5,608.7 1307.8,609.3 1314.2,613.9 1315.4,614.4 1318.3,613.7 1320.6,613.9 1322.9,613.5 1326.4,614.8 1329.3,614.4 1331.6,612.6 1333.9,613.7 1338.0,614.2 1340.9,612.8 1345.5,614.6 1347.9,614.4 1353.1,616.2 1355.4,616.4 1357.7,616.4 1361.2,615.6 1363.5,614.2 1367.0,614.6 1369.9,613.2 1372.8,614.5 1376.9,613.2 1379.2,614.1 1383.2,610.1 1383.8,610.2 1385.6,611.9 1387.9,612.4 1389.0,611.8 1391.4,609.5 1392.5,609.3 1396.0,611.1 1397.7,612.5 1404.1,614.9 1406.4,616.7 1410.5,617.8" stroke="#4DBEEE"/>
<polyline points="830.5,593.0 831.7,591.1 833.4,584.7 834.0,583.7 835.1,583.7 835.7,582.8 837.5,577.2 839.2,575.4 841.5,571.1 843.8,563.5 845.6,566.9 846.2,566.5 847.9,562.6 850.8,561.5 851.4,561.8 853.7,581.1 854.9,582.4 858.3,590.5 858.9,546.9 860.1,544.0 862.4,546.3 864.1,549.0 865.9,546.9 866.5,547.7 868.2,553.6 870.5,557.9 873.4,583.4 876.3,602.2 876.9,602.6 878.1,599.5 878.6,599.7 881.5,608.4 883.3,604.3 884.4,604.1 889.7,610.9 890.8,611.7 892.0,611.1 892.6,610.1 898.4,595.4 900.7,591.3 901.3,591.2 903.0,593.1 904.2,593.2 905.3,594.1 908.8,600.6 910.5,602.5 912.9,603.1 915.2,602.0 916.9,602.7 919.2,604.9 922.1,604.5 923.9,602.4 924.5,602.3 926.8,603.6 928.5,605.7 932.0,608.8 934.9,613.4 935.5,613.7 937.2,610.8 938.4,610.2 941.3,612.8 943.6,614.0 945.9,616.6 950.0,614.0 954.0,614.7 956.4,614.7 961.0,609.9 963.3,609.1 965.1,607.4 965.6,607.3 967.4,609.2 969.1,609.4 970.9,610.7 973.8,610.3 980.1,615.3 985.4,617.4 990.0,618.2 991.7,617.4 995.8,614.4 1001.0,605.5 1005.7,602.0 1006.2,602.1 1008.0,603.9 1010.9,606.0 1017.8,609.9 1025.4,607.7 1028.3,609.1 1030.6,608.2 1033.5,610.8 1035.8,611.4 1038.1,610.7 1039.9,611.7 1042.2,610.6 1043.9,610.4 1045.7,609.3 1047.4,609.1 1050.9,606.8 1052.6,606.5 1054.4,606.8 1055.5,607.6 1057.3,611.0 1061.3,615.8 1063.1,617.0 1067.1,618.5 1071.8,618.7 1078.2,617.6 1081.1,616.2 1084.0,617.3 1087.4,616.5 1090.3,617.1 1092.7,616.1 1095.0,616.7 1097.9,616.3 1100.8,616.8 1102.5,616.2 1104.8,616.8 1108.9,615.9 1117.6,617.2 1119.9,616.8 1122.8,617.2 1127.5,616.0 1133.3,608.4 1134.4,607.8 1136.2,607.9 1138.5,605.4 1139.6,606.2 1143.1,610.3 1147.8,613.1 1150.7,613.0 1154.7,614.9 1158.8,613.4 1162.3,615.9 1164.6,616.9 1166.9,617.1 1171.5,616.2 1175.6,616.1 1180.2,613.9 1182.0,612.6 1185.5,613.4 1187.2,613.2 1188.9,612.0 1191.3,609.4 1193.6,608.9 1195.3,607.8 1197.6,604.3 1198.2,604.2 1200.0,605.7 1200.5,605.8 1204.0,603.6 1205.2,603.4 1208.1,605.1 1209.8,605.3 1213.3,601.5 1216.2,603.2 1218.5,602.3 1222.0,605.3 1223.7,605.7 1225.5,606.7 1227.8,606.1 1230.1,606.0 1233.6,607.2 1235.9,608.9 1239.4,608.3 1244.0,612.0 1246.9,612.4 1248.7,614.4 1251.0,615.6 1254.5,615.7 1261.4,614.1 1264.9,614.8 1269.6,616.9 1273.6,617.2 1279.4,616.2 1282.3,617.4 1284.1,617.6 1290.4,615.6 1293.3,611.8 1293.9,611.6 1295.7,612.6 1296.2,612.5 1298.6,610.2 1303.8,612.9 1305.5,614.3 1309.0,615.6 1313.6,615.3 1316.5,612.4 1317.1,612.3 1318.9,613.5 1320.0,613.8 1322.9,613.3 1325.2,611.9 1328.1,613.3 1329.9,613.5 1332.8,614.8 1336.3,615.1 1338.6,614.4 1339.7,614.5 1343.2,616.8 1353.1,617.2 1357.7,615.7 1361.2,616.0 1364.7,613.3 1368.2,611.4 1369.9,611.3 1372.2,609.9 1375.1,610.8 1379.8,613.8 1380.9,614.2 1384.4,613.3 1387.9,614.0 1391.4,615.3 1393.1,614.5 1394.8,614.4 1396.6,613.5 1398.3,613.8 1400.1,613.5 1404.1,616.2 1408.2,617.4 1410.5,617.2" stroke="#A2142F"/>
</g>
<defs><clipPath id="ci"><rect x="1054.5" y="68.9" width="291.0" height="245.1"/></clipPath></defs>
<g clip-path="url(#ci)" fill="none" stroke-width="1.25" stroke-linejoin="round">
<polyline points="1054.5,297.3 1056.7,300.3 1058.1,301.1 1059.6,301.1 1060.3,300.2 1062.5,295.0 1063.2,294.8 1065.4,297.0 1066.1,297.0 1069.0,294.9 1071.2,290.4 1071.9,290.4 1074.1,296.7 1076.2,300.8 1079.9,303.6 1084.2,308.1 1093.7,309.3 1096.5,309.0 1104.5,312.0 1110.3,312.6 1115.4,312.2 1120.5,310.4 1124.1,308.0 1127.7,307.9 1132.8,307.1 1136.4,302.7 1137.2,302.2 1140.0,301.7 1143.0,298.7 1144.4,296.5 1147.3,290.2 1148.0,289.9 1150.2,291.8 1150.9,290.9 1153.1,285.3 1153.8,285.1 1156.0,287.9 1159.6,298.4 1161.8,303.1 1164.0,306.3 1166.2,307.6 1168.3,307.9 1172.7,304.7 1176.3,303.7 1178.5,304.0 1180.7,303.8 1185.0,305.3 1186.5,305.2 1189.3,301.7 1192.2,299.3 1196.6,294.1 1198.0,293.2 1198.8,293.2 1200.2,295.3 1203.1,303.7 1205.3,307.7 1209.7,310.6 1215.5,311.9 1220.5,309.9 1222.7,307.6 1225.6,303.3 1227.1,300.1 1231.4,285.1 1232.1,283.7 1236.5,281.3 1237.9,281.9 1239.4,282.0 1240.1,282.7 1240.8,284.7 1243.7,298.7 1245.9,303.1 1252.4,310.3 1253.9,311.1 1257.5,312.0 1262.6,312.5 1270.5,311.5 1275.6,310.4 1282.9,307.5 1285.0,307.1 1286.5,306.0 1289.4,300.6 1290.1,300.0 1291.6,299.7 1293.8,300.1 1298.8,304.8 1299.6,305.2 1301.7,305.2 1304.6,308.2 1306.1,308.7 1306.8,308.4 1309.0,306.2 1311.9,305.9 1313.3,304.7 1316.2,300.6 1319.1,291.6 1321.3,289.7 1323.5,288.8 1324.9,289.3 1327.1,291.7 1329.3,292.5 1330.7,293.5 1333.6,300.6 1338.7,306.4 1340.9,306.9 1344.5,306.9" stroke="#0072BD"/>
<polyline points="1054.5,186.3 1056.7,201.5 1059.6,237.5 1063.2,266.9 1066.1,261.3 1070.5,216.5 1072.6,202.6 1074.8,182.1 1075.5,182.9 1076.2,185.4 1077.7,195.2 1079.2,219.0 1082.0,248.4 1083.5,267.4 1085.0,268.0 1087.1,271.4 1088.6,272.7 1090.8,273.9 1093.7,291.9 1094.4,290.9 1095.1,288.4 1097.3,289.7 1098.0,289.8 1103.1,288.0 1105.2,288.6 1108.9,285.8 1110.3,285.7 1112.5,286.6 1114.7,285.2 1117.6,285.3 1119.8,283.6 1121.9,281.2 1124.1,281.1 1127.0,276.8 1127.7,276.4 1129.9,277.3 1130.6,276.9 1133.5,268.6 1134.2,267.7 1135.0,267.5 1138.6,267.8 1141.5,270.5 1142.2,270.2 1143.7,268.2 1144.4,267.9 1145.1,268.4 1146.6,271.3 1149.5,281.0 1150.9,284.2 1154.5,285.4 1156.0,284.7 1156.7,284.7 1159.6,287.5 1160.3,287.4 1162.5,286.0 1164.7,286.5 1166.2,284.2 1169.0,277.0 1172.0,273.1 1174.1,267.9 1174.8,266.7 1176.3,265.9 1177.0,266.2 1179.2,269.3 1181.4,269.9 1184.3,273.1 1187.9,282.6 1192.2,288.1 1194.4,289.9 1196.6,293.4 1199.5,294.4 1200.2,290.6 1202.4,295.6 1205.3,298.8 1206.0,299.1 1206.8,298.8 1210.4,295.1 1213.3,287.7 1215.5,285.8 1216.9,283.5 1218.3,279.1 1220.5,269.2 1221.2,267.4 1222.0,267.0 1222.7,268.0 1225.6,277.5 1226.3,278.9 1227.1,279.2 1229.2,278.2 1230.0,278.7 1235.8,287.3 1236.5,287.8 1238.6,285.5 1240.8,284.7 1241.5,283.6 1243.7,277.8 1244.4,276.8 1245.2,277.3 1249.5,285.3 1251.0,286.2 1251.7,285.6 1253.9,281.9 1255.3,282.1 1256.0,281.8 1256.8,280.7 1259.7,274.3 1261.8,271.5 1264.8,263.0 1265.5,262.5 1266.2,263.4 1268.4,268.7 1271.3,271.0 1272.0,272.4 1274.9,281.3 1279.2,290.4 1283.6,297.6 1285.0,300.8 1285.8,301.7 1286.5,301.8 1288.0,301.0 1288.7,301.2 1291.6,304.4 1293.0,304.7 1295.9,304.5 1298.1,303.1 1301.0,302.5 1301.7,301.9 1304.6,295.7 1305.4,295.1 1307.5,294.8 1308.2,293.6 1310.4,286.7 1313.3,281.1 1314.0,280.1 1314.8,279.9 1316.2,280.4 1318.4,279.7 1319.1,280.4 1322.0,287.0 1326.4,294.9 1327.1,295.0 1329.3,291.0 1330.0,290.4 1332.2,291.2 1333.6,290.2 1334.3,290.1 1337.2,295.0 1338.0,295.5 1340.2,295.7 1343.0,297.4 1344.5,297.6" stroke="#D95319"/>
<polyline points="1054.5,287.3 1058.1,285.1 1060.3,282.8 1061.8,278.7 1063.9,270.0 1064.7,269.4 1067.5,272.8 1069.7,276.6 1071.2,276.8 1071.9,277.7 1074.8,287.2 1077.0,291.1 1079.9,298.7 1083.5,305.7 1084.2,306.3 1085.7,306.3 1088.6,304.2 1090.0,304.0 1092.2,304.2 1094.4,305.3 1095.1,305.2 1097.3,303.7 1098.7,304.1 1101.6,306.1 1103.1,306.2 1104.5,305.8 1105.2,286.3 1107.4,280.6 1111.8,271.9 1115.4,259.4 1116.1,258.2 1116.8,258.1 1117.6,259.1 1121.9,274.2 1122.7,275.9 1123.4,276.4 1124.1,275.8 1124.8,274.0 1127.0,263.1 1127.7,260.2 1128.5,259.2 1129.2,260.4 1133.5,278.0 1134.2,279.7 1136.4,282.2 1139.3,290.6 1141.5,294.3 1143.7,301.5 1144.4,303.2 1145.8,304.8 1157.5,307.3 1158.9,306.4 1160.3,304.8 1161.1,304.6 1163.2,305.8 1164.0,305.8 1166.9,304.5 1168.3,304.4 1172.0,307.4 1174.1,308.1 1177.0,309.7 1182.1,308.9 1183.5,307.8 1187.2,303.2 1190.1,300.9 1195.2,293.6 1195.9,292.9 1198.0,292.2 1198.8,291.6 1200.2,287.8 1203.1,277.2 1203.8,276.7 1206.0,279.9 1206.8,280.2 1207.5,279.1 1209.7,273.3 1210.4,272.8 1211.1,273.3 1214.0,277.0 1216.2,277.5 1216.9,278.2 1218.3,280.8 1222.0,289.9 1223.4,291.0 1224.9,290.8 1225.6,291.2 1227.8,294.3 1230.7,294.5 1233.6,291.5 1236.5,290.3 1237.2,290.4 1239.4,291.6 1240.1,291.5 1242.3,289.1 1243.0,288.9 1245.9,290.8 1251.7,290.1 1252.4,290.7 1254.6,294.4 1256.8,296.3 1258.2,298.8 1261.1,301.7 1263.3,304.8 1266.9,307.5 1269.1,307.8 1272.0,306.2 1274.2,305.8 1275.6,305.1 1280.0,298.0 1282.9,289.9 1283.6,289.8 1285.8,291.9 1287.2,291.1 1288.7,288.5 1290.8,282.7 1291.6,282.3 1293.8,284.6 1294.5,284.2 1296.7,278.6 1300.3,272.3 1301.0,271.7 1303.2,272.6 1304.6,272.4 1307.5,268.2 1308.2,267.8 1309.7,269.2 1311.9,273.5 1314.0,275.0 1316.9,281.4 1317.7,281.9 1319.8,281.4 1320.6,281.9 1322.0,284.2 1322.8,284.9 1324.2,285.3 1324.9,286.3 1327.8,292.0 1330.7,300.2 1332.9,304.0 1337.2,308.1 1338.7,308.9 1340.2,309.0 1342.3,308.5 1344.5,309.3" stroke="#EDB120"/>
<polyline points="1054.5,294.5 1056.0,293.2 1058.1,292.2 1059.6,290.8 1061.0,290.1 1066.8,291.8 1070.5,289.7 1071.2,289.7 1073.3,291.6 1074.1,291.5 1075.5,289.6 1076.2,289.3 1078.4,290.8 1081.3,290.0 1082.8,291.1 1085.7,297.0 1088.6,298.5 1090.8,302.2 1092.2,303.1 1096.5,299.5 1099.5,289.9 1100.2,288.5 1101.6,287.6 1103.1,284.3 1106.7,270.9 1107.4,269.7 1108.2,269.7 1109.6,270.7 1111.0,270.7 1111.8,271.4 1114.7,279.3 1116.1,280.6 1116.8,280.4 1117.6,279.0 1119.0,275.0 1119.8,274.3 1121.2,274.5 1122.7,274.0 1123.4,274.6 1125.5,278.4 1127.0,279.6 1129.9,278.3 1132.8,279.1 1135.0,281.6 1137.2,281.0 1140.8,285.0 1144.4,298.8 1146.6,301.7 1150.2,309.3 1152.4,311.4 1154.5,312.5 1161.8,312.7 1164.0,311.7 1166.2,309.8 1169.0,305.7 1172.7,301.8 1178.5,292.5 1179.2,292.2 1179.9,292.5 1182.1,294.2 1185.7,298.5 1187.9,299.0 1189.3,299.9 1190.1,299.5 1191.5,295.8 1197.3,275.4 1198.0,273.9 1199.5,273.6 1200.2,272.7 1202.4,267.7 1203.1,268.3 1206.8,278.7 1209.7,282.8 1211.1,285.8 1214.7,297.7 1215.5,298.6 1218.3,298.6 1221.2,301.5 1222.0,301.6 1224.2,300.0 1224.9,300.1 1227.8,304.5 1228.5,304.7 1229.2,304.3 1232.9,298.8 1235.8,298.2 1240.1,287.8 1240.8,287.0 1243.0,286.5 1244.4,285.5 1245.2,285.6 1245.9,287.1 1247.3,292.0 1248.8,295.2 1250.2,296.6 1251.0,296.8 1253.2,296.2 1253.9,296.7 1256.0,301.2 1256.8,301.8 1258.2,302.1 1260.4,304.0 1261.1,303.8 1263.3,301.0 1264.0,300.8 1267.7,303.0 1271.3,302.3 1272.7,300.7 1277.8,290.0 1278.5,289.6 1281.4,290.9 1284.3,289.3 1288.7,292.5 1290.1,295.1 1293.0,302.4 1294.5,304.2 1301.7,308.5 1303.2,308.5 1307.5,305.9 1309.7,303.7 1312.6,302.5 1315.5,297.8 1318.4,296.1 1319.8,292.7 1322.0,283.3 1322.8,282.0 1323.5,282.1 1324.9,283.8 1327.8,284.9 1328.5,284.8 1329.3,284.2 1330.7,282.1 1331.5,282.0 1332.2,283.1 1340.9,306.5 1342.3,308.6 1344.5,310.0" stroke="#7E2F8E"/>
<polyline points="1054.5,280.7 1058.1,61.1 1061.8,210.8 1062.5,212.6 1064.7,200.0 1066.8,220.5 1067.5,222.7 1069.7,197.8 1071.9,190.0 1072.6,194.3 1075.5,227.4 1077.7,241.3 1078.4,241.6 1079.2,241.1 1079.9,235.0 1082.0,193.3 1085.0,164.4 1085.7,162.1 1087.1,168.1 1089.3,183.8 1090.8,188.4 1093.7,209.7 1096.5,190.6 1098.0,184.5 1099.5,182.2 1102.3,105.0 1103.1,103.6 1104.5,120.3 1107.4,140.9 1109.6,232.4 1113.2,249.1 1114.0,250.4 1115.4,238.7 1119.8,190.7 1126.3,232.9 1128.5,227.8 1129.9,220.2 1131.3,222.8 1132.8,229.5 1135.0,193.6 1135.7,199.8 1137.2,235.6 1140.0,253.7 1143.0,220.3 1145.8,199.6 1146.6,197.4 1147.3,197.6 1148.0,198.5 1150.9,223.8 1153.1,251.7 1156.0,279.5 1160.3,295.7 1162.5,293.0 1165.4,286.3 1167.6,283.6 1170.5,277.3 1172.7,282.4 1174.8,289.3 1176.3,291.1 1180.7,294.8 1184.3,298.8 1185.0,298.9 1186.5,297.6 1187.2,297.8 1189.3,299.9 1190.1,299.8 1192.2,297.7 1193.0,297.5 1196.6,298.6 1198.8,296.7 1199.5,296.4 1201.0,296.6 1203.1,295.0 1203.8,295.1 1206.0,296.6 1206.8,296.5 1208.9,294.9 1209.7,294.9 1211.1,295.4 1212.5,295.3 1214.7,296.3 1215.5,296.0 1216.9,294.1 1217.6,293.9 1219.1,294.5 1219.8,294.2 1223.4,290.9 1226.3,292.2 1227.1,292.1 1230.7,289.5 1232.9,287.3 1235.8,286.1 1237.9,280.9 1240.1,277.7 1240.8,277.3 1243.0,278.1 1243.7,277.0 1245.2,277.9 1245.9,279.0 1248.8,286.6 1255.3,296.4 1257.5,299.1 1261.8,297.6 1264.8,298.5 1267.7,297.1 1271.3,297.2 1274.2,295.1 1277.1,295.2 1278.5,294.2 1281.4,293.5 1287.2,287.9 1290.1,283.0 1290.8,282.5 1293.0,282.5 1293.8,281.7 1295.2,279.2 1298.1,262.9 1299.6,258.7 1301.0,260.9 1302.5,258.8 1305.4,273.3 1308.2,273.3 1310.4,275.1 1311.1,275.1 1312.6,278.7 1315.5,289.7 1317.7,291.7 1320.6,292.3 1324.2,294.7 1325.7,294.7 1327.1,294.2 1329.3,289.6 1330.7,288.0 1333.6,286.6 1338.0,279.4 1338.7,281.1 1341.6,294.0 1344.5,295.7" stroke="#77AC30"/>
<polyline points="1054.5,304.7 1056.0,305.3 1058.8,303.1 1061.0,303.8 1062.5,303.4 1069.0,294.8 1071.2,293.1 1075.5,295.6 1079.2,295.3 1081.3,294.2 1083.5,297.1 1085.7,298.8 1090.0,303.4 1091.5,304.2 1095.1,305.3 1097.3,306.5 1098.7,306.6 1105.2,302.8 1107.4,299.8 1111.0,296.1 1113.2,295.2 1114.0,294.5 1116.1,290.0 1116.8,289.9 1119.8,295.9 1123.4,301.1 1124.8,302.1 1128.5,302.0 1131.3,304.1 1132.1,304.2 1133.5,301.8 1135.7,295.9 1136.4,294.9 1137.9,294.2 1139.3,292.8 1143.0,286.4 1144.4,285.6 1148.0,285.3 1149.5,285.9 1151.7,288.1 1155.3,289.5 1156.7,291.8 1159.6,299.0 1163.2,303.4 1167.6,305.8 1171.2,304.4 1174.8,304.4 1179.9,301.8 1182.1,302.6 1184.3,301.4 1187.2,302.3 1189.3,301.5 1191.5,301.7 1194.4,297.1 1195.2,297.2 1197.3,299.2 1198.0,299.5 1198.8,299.2 1201.7,296.1 1204.6,295.9 1206.8,293.0 1207.5,292.8 1209.7,294.0 1214.0,293.1 1216.2,293.8 1219.1,297.4 1219.8,297.6 1222.0,296.2 1224.9,298.9 1227.1,298.0 1227.8,298.2 1230.0,300.1 1234.3,302.0 1237.2,304.8 1239.4,305.6 1241.5,307.7 1244.4,309.4 1251.0,311.5 1258.2,311.4 1261.1,310.7 1262.6,309.8 1266.9,303.3 1270.5,292.8 1275.6,281.7 1277.8,275.8 1278.5,275.1 1279.2,275.4 1280.7,277.0 1282.9,277.5 1283.6,276.9 1285.8,272.2 1288.0,270.5 1288.7,270.6 1289.4,271.5 1292.3,278.4 1293.0,279.3 1295.2,279.7 1298.1,283.4 1301.0,288.4 1301.7,289.1 1303.9,289.6 1304.6,290.4 1306.8,295.6 1308.2,297.5 1309.0,297.6 1312.6,296.2 1316.2,290.7 1319.1,290.1 1321.3,287.3 1324.2,288.1 1325.7,286.9 1327.8,284.1 1328.5,284.0 1329.3,285.1 1331.5,292.9 1332.9,296.1 1335.1,298.4 1338.7,300.5 1344.5,306.7" stroke="#4DBEEE"/>
<polyline points="1054.5,309.0 1056.0,309.4 1058.8,308.3 1061.8,309.8 1063.2,310.1 1066.8,309.1 1069.7,308.7 1071.9,308.9 1075.5,307.9 1082.0,309.4 1086.4,308.9 1088.6,310.5 1090.0,310.9 1095.8,308.6 1098.0,306.7 1099.5,306.2 1102.3,307.5 1106.7,307.3 1111.0,309.5 1114.0,310.0 1131.3,306.2 1134.2,306.5 1137.9,305.9 1140.8,306.9 1143.7,306.1 1147.3,307.4 1150.2,306.8 1152.4,307.5 1155.3,306.0 1157.5,305.6 1158.9,305.9 1162.5,307.7 1166.2,307.6 1168.3,307.9 1172.0,306.5 1173.4,305.2 1175.6,301.4 1177.8,298.8 1180.7,289.4 1182.1,286.4 1182.8,285.7 1185.7,285.3 1186.5,285.3 1187.9,286.7 1192.2,294.7 1196.6,297.9 1200.2,302.0 1201.7,303.1 1202.4,303.0 1204.6,301.2 1206.0,300.8 1211.8,303.0 1214.7,302.9 1217.6,304.1 1220.5,303.1 1222.7,304.3 1223.4,304.2 1227.1,302.2 1230.0,298.8 1231.4,298.0 1233.6,299.4 1235.8,300.2 1238.6,303.4 1243.7,307.1 1248.8,307.1 1253.9,308.4 1257.5,308.1 1260.4,309.4 1263.3,309.2 1264.8,308.6 1269.1,305.6 1274.2,298.1 1278.5,280.3 1279.2,278.1 1280.0,277.5 1280.7,278.4 1282.2,282.2 1285.0,292.9 1285.8,293.5 1288.0,290.9 1288.7,291.0 1292.3,299.0 1293.8,300.5 1295.2,300.5 1297.4,301.3 1299.6,300.8 1303.9,301.2 1306.8,302.4 1309.7,300.9 1311.1,300.8 1315.5,302.4 1320.6,306.0 1325.7,304.7 1329.3,306.9 1336.5,306.6 1338.7,307.0 1341.6,308.9 1344.5,308.7" stroke="#A2142F"/>
<polyline points="1054.5,290.5 1056.7,287.1 1058.8,281.5 1059.6,281.0 1061.0,282.7 1063.2,286.7 1065.4,287.8 1066.1,288.8 1070.5,299.2 1072.6,302.8 1074.1,304.1 1075.5,303.5 1079.9,300.0 1085.0,289.3 1085.7,289.3 1089.3,293.2 1091.5,296.2 1093.7,297.5 1098.7,303.3 1100.2,303.7 1103.1,300.1 1103.8,300.0 1105.2,301.0 1106.0,301.0 1106.7,300.5 1113.2,290.6 1114.7,289.2 1116.1,288.6 1120.5,281.7 1121.2,280.9 1121.9,280.9 1123.4,282.5 1124.1,284.0 1129.2,296.5 1131.3,299.4 1132.8,299.5 1135.0,297.6 1135.7,297.4 1137.9,299.9 1138.6,300.5 1139.3,300.5 1140.0,299.6 1143.0,292.5 1145.8,290.3 1148.8,285.8 1149.5,285.0 1150.2,284.8 1152.4,288.2 1156.0,297.8 1161.1,305.8 1164.0,308.6 1165.4,309.2 1166.9,309.0 1172.0,306.7 1179.2,307.1 1182.8,304.8 1186.5,306.3 1190.1,308.7 1193.0,307.0 1195.2,307.3 1195.9,307.0 1198.0,304.9 1201.7,305.3 1207.5,303.7 1208.2,303.7 1210.4,305.4 1212.5,305.3 1214.0,305.9 1214.7,305.8 1218.3,303.7 1219.8,302.1 1223.4,296.1 1226.3,289.4 1228.5,286.0 1229.2,285.5 1230.7,285.4 1234.3,287.1 1237.2,284.7 1238.6,284.5 1239.4,284.9 1241.5,289.4 1243.0,291.5 1243.7,291.6 1245.9,288.8 1246.6,288.8 1248.8,292.6 1252.4,294.6 1253.9,294.5 1254.6,294.9 1259.0,299.1 1264.0,305.0 1266.2,306.2 1271.3,305.4 1272.7,304.9 1274.9,303.5 1277.8,300.0 1278.5,299.4 1280.0,299.2 1282.2,300.7 1285.0,304.9 1285.8,305.2 1288.0,304.6 1290.1,306.4 1292.3,306.4 1294.5,307.9 1295.9,308.1 1301.0,304.3 1303.9,299.6 1306.1,298.6 1311.1,303.7 1316.2,305.9 1318.4,306.0 1322.0,304.1 1322.8,304.4 1324.9,306.7 1325.7,306.7 1328.5,303.3 1333.6,302.7 1341.6,308.3 1344.5,309.7" stroke="#0072BD"/>
<polyline points="1054.5,298.1 1057.4,291.9 1059.6,280.4 1060.3,277.8 1061.0,277.1 1062.5,279.1 1064.7,283.9 1066.8,285.9 1067.5,287.2 1073.3,298.8 1075.5,300.8 1077.0,301.1 1079.2,298.0 1079.9,297.9 1082.0,301.4 1083.5,302.2 1085.0,301.9 1086.4,300.9 1089.3,301.4 1095.1,300.4 1098.0,302.0 1100.9,304.6 1105.2,306.2 1106.7,306.2 1108.9,305.3 1112.5,306.2 1114.0,305.3 1119.8,293.9 1122.7,290.6 1126.3,279.4 1127.0,278.9 1129.2,278.5 1129.9,279.4 1132.1,286.1 1135.0,291.3 1137.9,298.4 1139.3,300.7 1141.5,302.8 1144.4,304.8 1145.8,305.0 1148.0,303.5 1148.8,303.5 1151.7,305.8 1153.8,306.5 1155.3,306.2 1157.5,304.4 1160.3,299.6 1162.5,297.4 1165.4,290.3 1167.6,287.0 1169.0,283.1 1169.8,281.8 1170.5,281.8 1172.0,285.1 1174.1,293.1 1174.8,294.6 1177.0,295.8 1177.8,296.9 1182.1,306.9 1184.3,308.6 1192.2,311.1 1198.8,311.3 1201.7,310.5 1207.5,309.6 1211.1,308.5 1219.8,310.1 1222.0,310.9 1224.9,310.7 1232.1,312.0 1235.0,311.2 1237.9,311.2 1243.0,308.1 1245.2,308.0 1248.8,308.8 1251.7,306.7 1255.3,307.0 1258.2,305.4 1260.4,306.0 1263.3,304.3 1264.0,304.3 1266.2,305.7 1269.1,306.1 1274.2,308.5 1280.0,309.4 1282.2,308.5 1285.0,305.1 1288.7,304.2 1291.6,305.4 1293.8,304.1 1295.9,304.4 1298.1,303.7 1301.0,305.7 1304.6,303.5 1309.7,305.7 1313.3,308.0 1318.4,308.3 1322.8,306.5 1327.1,308.2 1335.1,309.4 1339.4,310.8 1344.5,310.4" stroke="#D95319"/>
<polyline points="1054.5,304.1 1058.1,305.6 1060.3,307.4 1063.2,307.6 1066.1,309.3 1069.0,309.2 1071.2,308.5 1073.3,308.8 1074.8,307.4 1080.6,294.5 1081.3,294.0 1083.5,295.2 1085.7,294.3 1086.4,293.6 1089.3,287.5 1090.8,286.5 1092.9,283.9 1093.7,284.3 1095.8,288.6 1096.5,288.9 1097.3,288.6 1099.5,286.6 1100.2,286.9 1102.3,290.3 1103.1,290.0 1105.2,286.8 1106.0,286.2 1106.7,286.5 1109.6,293.0 1111.0,295.0 1114.7,298.0 1116.8,297.6 1119.0,299.0 1119.8,298.7 1120.5,297.7 1122.7,292.7 1124.8,289.8 1127.7,281.1 1129.9,278.0 1130.6,277.3 1131.3,277.2 1132.8,279.7 1135.0,285.4 1137.9,296.6 1140.8,302.6 1141.5,303.1 1143.7,303.1 1145.1,303.7 1148.0,306.6 1149.5,307.3 1157.5,309.0 1163.2,307.7 1166.2,309.6 1167.6,309.5 1172.7,305.8 1175.6,300.0 1177.8,297.2 1180.7,287.1 1182.8,284.0 1184.3,280.6 1187.2,270.3 1187.9,269.1 1188.6,268.6 1190.8,268.4 1192.2,270.8 1197.3,284.0 1199.5,287.5 1201.7,295.6 1203.1,299.4 1203.8,300.0 1206.0,299.7 1206.8,300.0 1209.7,302.9 1212.5,305.0 1215.5,305.0 1217.6,306.7 1220.5,307.2 1223.4,308.6 1224.9,308.3 1227.8,306.4 1230.0,306.7 1231.4,306.4 1234.3,303.3 1237.9,300.6 1241.5,301.0 1245.2,298.5 1251.0,300.0 1251.7,299.8 1253.9,296.6 1254.6,296.3 1259.0,296.1 1261.1,292.1 1263.3,289.7 1264.0,288.1 1266.9,278.8 1267.7,277.8 1270.5,275.7 1272.7,270.7 1273.5,269.9 1274.2,270.4 1274.9,271.8 1277.8,278.7 1278.5,279.9 1280.0,280.9 1282.2,284.8 1282.9,285.2 1285.0,284.0 1286.5,285.2 1290.8,293.9 1293.8,302.8 1295.2,306.0 1295.9,306.9 1299.6,309.2 1303.9,309.3 1306.8,307.3 1309.7,307.1 1313.3,304.7 1315.5,302.4 1317.7,301.6 1319.1,301.8 1319.8,302.4 1323.5,306.8 1324.9,308.0 1334.3,308.9 1335.8,307.8 1338.7,304.2 1342.3,301.6 1344.5,297.6" stroke="#EDB120"/>
<polyline points="1054.5,308.2 1055.2,308.7 1056.7,308.8 1060.3,306.8 1063.2,305.9 1066.8,302.8 1071.2,301.0 1074.1,297.9 1076.2,296.6 1077.7,294.3 1080.6,286.2 1085.0,279.7 1087.8,284.2 1088.6,283.9 1090.8,280.6 1091.5,280.9 1094.4,287.9 1098.0,291.3 1099.5,291.8 1100.9,290.3 1104.5,283.9 1107.4,277.4 1108.2,277.5 1109.6,279.1 1110.3,278.5 1112.5,270.4 1113.2,268.5 1114.0,267.8 1114.7,267.9 1115.4,268.6 1116.1,270.0 1118.3,276.4 1119.8,279.4 1121.2,279.9 1123.4,279.7 1124.1,280.3 1127.0,287.3 1132.1,296.0 1132.8,296.1 1133.5,295.4 1136.4,290.6 1137.9,289.2 1138.6,289.0 1143.0,292.7 1144.4,294.4 1146.6,295.4 1148.0,297.0 1148.8,297.3 1150.9,295.7 1151.7,295.7 1155.3,297.1 1158.2,295.9 1160.3,296.8 1161.1,296.6 1162.5,295.2 1163.2,295.1 1165.4,296.4 1168.3,296.4 1171.2,295.0 1172.0,295.1 1173.4,296.8 1175.6,301.6 1177.8,303.8 1180.7,308.0 1182.8,310.0 1185.0,311.0 1189.3,310.8 1193.7,308.8 1195.2,307.4 1198.0,303.2 1199.5,300.0 1202.4,286.6 1203.8,282.1 1207.5,273.2 1209.7,270.0 1211.1,268.9 1211.8,269.3 1212.5,270.7 1218.3,288.3 1219.1,289.5 1219.8,290.0 1221.2,289.4 1223.4,290.6 1224.2,290.4 1225.6,288.6 1228.5,286.5 1229.2,286.6 1232.1,289.2 1232.9,289.3 1233.6,288.9 1236.5,281.8 1237.2,282.1 1239.4,285.5 1240.1,285.4 1243.0,281.4 1245.9,273.9 1246.6,272.5 1247.3,272.2 1248.8,275.0 1253.2,288.0 1256.8,303.1 1258.2,305.5 1263.3,308.0 1266.2,308.5 1267.7,307.3 1270.5,301.6 1273.5,298.4 1275.6,292.4 1278.5,287.6 1280.7,286.6 1282.2,285.0 1282.9,284.7 1287.2,290.2 1289.4,290.6 1291.6,292.4 1293.0,291.9 1296.7,289.0 1299.6,292.5 1303.2,295.3 1306.1,300.7 1309.0,301.2 1312.6,303.1 1314.0,303.0 1316.9,301.9 1319.1,303.1 1320.6,303.3 1324.2,301.3 1327.8,301.0 1330.0,299.9 1332.2,300.5 1335.1,302.5 1336.5,302.7 1338.7,304.9 1339.4,305.1 1341.6,304.2 1344.5,304.7" stroke="#7E2F8E"/>
<polyline points="1054.5,295.2 1056.7,296.0 1059.6,298.6 1062.5,298.7 1065.4,300.7 1066.8,300.4 1071.9,293.4 1073.3,289.0 1076.2,275.9 1077.0,274.4 1078.4,272.8 1080.6,266.0 1081.3,266.0 1083.5,273.2 1084.2,274.4 1085.0,274.2 1087.1,271.7 1087.8,271.6 1088.6,272.3 1090.0,277.9 1092.9,294.8 1097.3,302.8 1098.7,303.9 1101.6,302.7 1104.5,303.8 1106.0,303.2 1111.8,295.8 1114.0,292.2 1114.7,291.6 1116.8,292.1 1119.0,290.2 1119.8,290.7 1122.7,295.5 1127.0,299.2 1129.9,299.8 1135.7,302.1 1137.9,302.6 1140.0,305.9 1141.5,307.2 1148.8,306.8 1150.2,305.9 1150.9,305.0 1157.5,293.4 1159.6,292.6 1161.8,289.5 1162.5,289.4 1164.0,291.4 1164.7,292.0 1166.2,292.2 1166.9,293.3 1169.0,298.9 1173.4,306.6 1174.8,307.4 1179.2,307.4 1180.7,306.6 1182.1,304.9 1185.7,298.6 1187.2,298.0 1190.1,298.4 1193.0,296.4 1194.4,294.5 1197.3,289.0 1201.7,285.1 1203.1,284.7 1205.3,285.3 1207.5,285.0 1209.7,285.1 1211.8,286.0 1213.3,285.3 1215.5,282.8 1216.2,282.4 1216.9,283.1 1219.8,290.1 1222.0,293.3 1224.9,298.9 1226.3,300.8 1230.0,303.8 1232.9,302.8 1235.8,304.7 1237.2,305.1 1237.9,304.7 1241.5,300.2 1243.0,299.6 1245.2,299.9 1245.9,299.6 1249.5,296.2 1253.9,296.5 1255.3,296.2 1256.8,293.9 1259.7,285.6 1261.1,284.0 1264.0,283.4 1264.8,284.2 1266.9,290.2 1267.7,291.4 1268.4,291.9 1276.3,286.6 1278.5,286.0 1279.2,285.4 1280.0,283.6 1281.4,278.0 1282.2,276.7 1284.3,277.9 1285.0,277.0 1287.2,270.9 1288.0,270.1 1289.4,270.8 1293.0,274.6 1297.4,287.5 1298.8,290.6 1300.3,292.2 1301.7,292.8 1303.9,292.9 1306.8,294.7 1309.0,294.2 1312.6,297.3 1316.9,297.0 1319.8,301.4 1322.0,302.1 1325.7,305.7 1327.1,306.5 1330.7,306.0 1332.9,307.1 1334.3,307.3 1338.0,305.3 1341.6,303.9 1343.0,304.1 1344.5,305.0" stroke="#77AC30"/>
<polyline points="1054.5,269.8 1056.0,265.4 1056.7,265.0 1058.1,265.7 1059.6,267.4 1060.3,269.1 1062.5,276.6 1063.9,279.6 1066.1,280.1 1068.3,282.6 1070.5,283.5 1072.6,285.7 1073.3,285.6 1074.8,283.0 1075.5,282.5 1078.4,289.6 1079.9,290.5 1082.0,291.0 1085.0,293.5 1087.1,292.3 1087.8,292.5 1090.0,297.0 1091.5,298.3 1095.1,296.8 1098.7,298.7 1099.5,298.2 1101.6,295.0 1102.3,295.4 1104.5,299.1 1106.0,300.0 1107.4,299.5 1110.3,295.6 1111.0,295.2 1113.2,296.8 1114.0,296.4 1114.7,295.0 1116.8,289.2 1121.2,280.6 1121.9,279.9 1122.7,279.9 1125.5,282.3 1126.3,282.6 1127.7,282.5 1128.5,283.4 1131.3,296.1 1132.8,299.4 1135.7,301.0 1139.3,305.6 1141.5,307.2 1143.7,309.6 1148.0,310.7 1150.9,310.8 1154.5,309.6 1158.2,305.5 1161.1,303.9 1164.0,300.8 1164.7,300.9 1168.3,303.2 1171.2,306.0 1172.0,306.2 1174.1,305.8 1177.0,308.3 1177.8,308.4 1181.4,307.5 1187.9,306.5 1189.3,306.7 1191.5,307.8 1193.7,307.6 1195.9,308.2 1198.8,306.7 1201.7,306.3 1203.8,307.5 1204.6,307.5 1210.4,304.9 1212.5,304.8 1214.0,303.5 1216.9,299.3 1219.1,298.5 1219.8,297.7 1222.7,293.4 1223.4,293.6 1225.6,295.4 1229.2,294.3 1230.7,294.4 1231.4,293.7 1233.6,287.9 1237.2,281.7 1240.1,273.1 1240.8,272.4 1241.5,273.0 1244.4,280.1 1245.2,281.0 1245.9,280.9 1248.8,277.9 1252.4,275.7 1253.2,275.6 1253.9,276.6 1256.8,286.7 1258.2,288.7 1259.7,288.3 1260.4,288.5 1261.1,289.6 1263.3,295.9 1264.8,298.2 1265.5,297.8 1269.8,291.3 1270.5,291.1 1272.0,292.7 1273.5,293.5 1274.9,293.6 1277.1,293.0 1277.8,293.2 1280.0,294.9 1280.7,294.7 1281.4,293.3 1284.3,282.0 1285.8,279.3 1286.5,279.0 1289.4,283.0 1290.1,283.3 1290.8,283.1 1292.3,281.6 1293.0,281.4 1293.8,282.1 1296.7,290.6 1297.4,291.8 1299.6,291.9 1303.2,295.9 1306.8,296.6 1309.7,295.1 1311.9,296.5 1312.6,296.6 1313.3,295.5 1314.8,291.6 1315.5,290.8 1319.8,296.8 1325.7,297.4 1330.7,302.6 1331.5,302.2 1332.2,300.8 1334.3,294.3 1335.1,293.1 1335.8,292.8 1336.5,293.1 1338.7,295.3 1339.4,295.5 1340.2,295.0 1343.0,290.7 1344.5,291.0" stroke="#4DBEEE"/>
<polyline points="1054.5,308.5 1056.0,307.7 1057.4,306.2 1058.8,305.8 1062.5,306.8 1065.4,306.5 1067.5,307.7 1073.3,309.2 1075.5,308.6 1079.2,308.8 1083.5,305.4 1086.4,301.1 1088.6,299.9 1091.5,292.3 1092.2,292.4 1094.4,295.3 1095.1,295.1 1097.3,290.2 1098.7,288.5 1099.5,288.6 1102.3,290.6 1103.1,290.5 1105.2,288.6 1106.0,288.6 1106.7,289.1 1108.9,292.7 1109.6,293.2 1111.0,293.1 1113.2,295.2 1114.0,295.2 1116.1,292.3 1116.8,292.9 1119.8,298.4 1121.2,299.0 1122.7,297.8 1125.5,294.1 1127.7,293.5 1130.6,288.5 1132.1,284.8 1134.2,273.7 1135.7,269.8 1137.2,269.5 1139.3,268.2 1140.8,268.0 1142.2,268.2 1145.1,269.4 1148.0,271.1 1150.2,273.5 1151.7,273.8 1156.0,283.4 1157.5,284.9 1160.3,286.8 1162.5,293.4 1164.0,296.3 1165.4,296.7 1168.3,296.2 1169.8,296.6 1171.2,297.9 1175.6,304.1 1176.3,304.5 1179.2,304.6 1182.1,306.2 1185.0,305.2 1187.2,305.9 1188.6,305.7 1190.1,304.1 1193.0,298.1 1193.7,297.8 1195.2,298.2 1195.9,297.6 1197.3,292.9 1198.8,285.7 1199.5,283.7 1200.2,283.1 1201.7,283.3 1203.8,282.5 1206.8,283.1 1208.2,282.5 1209.7,280.9 1210.4,281.4 1212.5,286.8 1215.5,289.4 1216.2,289.3 1217.6,286.6 1219.8,279.8 1220.5,279.2 1222.7,281.8 1223.4,281.9 1224.9,280.7 1225.6,280.7 1226.3,281.4 1230.7,290.2 1234.3,295.8 1235.0,296.3 1235.8,296.1 1237.9,294.5 1240.1,295.5 1241.5,295.6 1245.2,293.9 1246.6,291.4 1248.8,285.3 1251.7,280.4 1253.2,278.9 1254.6,278.4 1256.8,275.3 1257.5,275.2 1259.7,279.0 1261.1,279.0 1261.8,280.0 1264.8,290.3 1269.8,299.3 1270.5,299.4 1272.7,296.6 1273.5,296.2 1277.1,298.0 1277.8,297.8 1280.0,295.7 1282.2,294.6 1282.9,294.5 1285.0,296.9 1285.8,296.9 1288.0,295.1 1288.7,295.1 1294.5,302.9 1295.2,302.7 1297.4,298.5 1298.1,297.8 1300.3,298.0 1301.0,297.3 1304.6,285.3 1309.0,278.5 1309.7,278.0 1311.9,279.8 1312.6,279.6 1314.8,276.7 1316.2,275.4 1316.9,275.6 1317.7,277.3 1319.8,287.9 1321.3,292.9 1322.0,293.8 1324.2,293.2 1324.9,294.2 1326.4,297.4 1328.5,300.0 1330.7,305.6 1332.2,307.8 1333.6,308.7 1337.2,310.0 1344.5,309.1" stroke="#A2142F"/>
<polyline points="1054.5,264.4 1056.0,265.0 1056.7,266.4 1059.6,280.4 1063.9,294.7 1065.4,296.7 1066.8,297.7 1069.0,297.0 1069.7,297.6 1071.9,301.1 1074.1,302.2 1075.5,301.7 1077.7,300.3 1079.9,300.5 1082.8,298.1 1085.7,301.1 1086.4,301.3 1087.8,301.0 1090.8,299.4 1094.4,299.6 1095.8,298.1 1098.0,293.8 1098.7,293.8 1101.6,298.1 1103.1,298.7 1105.2,298.2 1108.2,301.5 1108.9,301.2 1111.0,298.3 1112.5,297.1 1113.2,297.1 1115.4,298.7 1119.0,297.0 1119.8,295.8 1121.9,287.7 1122.7,286.3 1124.8,284.7 1126.3,282.1 1129.2,271.9 1129.9,271.1 1131.3,271.1 1132.1,270.6 1133.5,268.4 1136.4,265.9 1137.2,266.6 1137.9,268.9 1141.5,287.1 1145.8,302.2 1147.3,305.4 1148.8,306.9 1151.7,307.4 1155.3,309.2 1156.7,309.2 1159.6,308.2 1162.5,309.2 1165.4,308.6 1169.8,310.5 1172.0,310.8 1178.5,310.8 1180.7,310.0 1185.7,305.0 1190.8,298.9 1198.0,294.0 1198.8,294.0 1199.5,294.6 1203.1,299.1 1206.0,300.6 1208.2,303.7 1209.7,305.1 1212.5,305.6 1218.3,308.0 1223.4,307.8 1227.1,305.5 1230.0,301.6 1233.6,291.4 1235.8,289.4 1237.9,285.8 1238.6,285.2 1239.4,286.3 1242.3,295.5 1245.2,300.7 1246.6,302.4 1248.1,302.8 1252.4,302.0 1259.7,297.8 1260.4,298.2 1262.6,301.0 1264.8,301.2 1269.1,305.9 1270.5,306.4 1275.6,306.7 1277.1,305.8 1282.9,298.9 1288.0,288.1 1292.3,273.8 1294.5,270.1 1297.4,266.3 1298.1,266.3 1298.8,268.5 1301.0,280.0 1303.9,286.6 1306.8,297.5 1308.2,300.6 1309.7,301.1 1312.6,299.6 1314.8,299.7 1317.7,297.9 1322.0,293.8 1325.7,286.6 1328.5,285.1 1330.0,286.4 1332.9,292.9 1335.1,296.8 1337.2,299.4 1340.2,306.2 1341.6,307.5 1344.5,308.4" stroke="#0072BD"/>
<polyline points="1054.5,307.1 1056.0,307.1 1058.8,307.9 1061.8,307.7 1066.1,308.8 1069.0,310.6 1071.9,311.1 1074.8,311.1 1078.4,312.0 1083.5,311.0 1087.1,309.7 1090.0,308.1 1094.4,307.2 1097.3,307.1 1099.5,306.3 1102.3,306.8 1106.7,309.4 1112.5,308.7 1114.7,307.8 1117.6,304.7 1121.2,305.1 1124.1,303.9 1127.7,300.1 1130.6,295.8 1134.2,294.6 1135.7,295.0 1136.4,294.8 1137.9,293.5 1138.6,293.5 1142.2,296.5 1143.0,296.8 1144.4,296.5 1145.1,296.8 1148.0,300.0 1150.2,298.9 1151.7,299.1 1156.0,303.3 1158.2,306.0 1159.6,307.0 1163.2,307.0 1166.9,306.2 1172.0,306.6 1174.1,306.0 1177.8,306.4 1183.5,303.1 1186.5,300.7 1188.6,299.4 1190.8,296.6 1191.5,296.3 1193.0,296.8 1193.7,296.6 1195.2,295.3 1195.9,295.1 1198.8,299.7 1201.7,300.0 1204.6,304.4 1205.3,305.1 1206.8,305.4 1208.9,304.7 1214.0,300.3 1217.6,294.5 1221.2,290.8 1222.0,291.3 1224.2,295.3 1226.3,294.2 1227.1,294.4 1228.5,297.0 1230.7,302.6 1232.1,304.7 1232.9,305.0 1236.5,303.8 1239.4,301.9 1241.5,302.4 1243.7,301.4 1246.6,301.9 1250.2,299.4 1252.4,297.0 1253.2,296.6 1256.0,298.3 1257.5,298.5 1259.0,297.6 1261.1,297.4 1263.3,296.3 1266.2,296.1 1268.4,294.3 1270.5,294.7 1273.5,289.9 1274.2,290.0 1276.3,292.8 1278.5,293.2 1282.2,300.3 1285.8,303.8 1288.0,306.7 1289.4,307.7 1291.6,308.4 1293.8,308.6 1297.4,306.8 1298.1,306.8 1301.0,308.8 1302.5,308.9 1305.4,307.7 1309.0,309.4 1316.2,311.5 1317.7,311.6 1321.3,310.7 1323.5,310.7 1328.5,312.0 1330.0,311.5 1332.9,309.3 1335.8,309.4 1338.7,308.5 1341.6,309.7 1342.3,309.7 1344.5,308.5" stroke="#D95319"/>
<polyline points="1054.5,291.7 1056.0,296.0 1058.8,299.1 1063.2,305.5 1066.1,306.5 1069.7,309.4 1071.9,309.5 1074.8,308.8 1077.7,308.9 1080.6,306.2 1085.0,303.5 1088.6,297.9 1089.3,297.5 1092.2,297.3 1094.4,295.9 1095.8,296.5 1100.9,300.9 1103.8,304.4 1106.0,304.9 1113.2,299.7 1114.7,298.2 1119.8,282.8 1124.1,276.0 1124.8,275.5 1125.5,276.0 1127.7,279.5 1130.6,279.0 1132.1,280.2 1134.2,283.4 1136.4,287.8 1139.3,291.2 1142.2,296.5 1150.9,306.5 1156.0,310.3 1158.9,311.7 1161.1,312.2 1168.3,312.8 1181.4,312.8 1192.2,311.0 1195.9,308.9 1199.5,307.5 1203.1,302.0 1204.6,301.4 1207.5,302.2 1210.4,301.7 1211.1,302.0 1215.5,307.3 1218.3,310.0 1219.8,310.7 1224.9,310.9 1230.0,310.0 1231.4,309.2 1234.3,306.4 1237.9,305.8 1245.2,298.7 1251.0,299.2 1253.9,302.7 1256.0,302.7 1258.2,303.8 1261.1,302.0 1264.0,298.3 1265.5,297.6 1266.2,298.2 1268.4,302.1 1269.1,302.8 1271.3,302.7 1274.2,304.4 1277.1,304.2 1280.0,306.0 1285.8,308.1 1289.4,310.1 1292.3,310.9 1293.8,310.8 1298.1,308.9 1300.3,307.2 1301.7,305.3 1304.6,298.2 1306.8,294.5 1309.7,293.0 1311.1,291.8 1313.3,292.1 1315.5,287.0 1316.2,286.2 1316.9,286.8 1320.6,294.7 1322.0,296.9 1324.2,298.3 1327.1,297.8 1327.8,298.3 1330.7,302.1 1332.2,302.4 1334.3,302.0 1337.2,299.8 1339.4,300.3 1342.3,299.5 1344.5,300.0" stroke="#EDB120"/>
<polyline points="1054.5,308.2 1056.7,306.9 1059.6,307.4 1061.8,306.9 1068.3,303.3 1070.5,299.7 1071.2,299.3 1073.3,300.0 1075.5,299.3 1079.2,301.6 1081.3,300.8 1082.0,300.9 1085.0,304.7 1085.7,304.9 1087.8,304.3 1091.5,305.2 1095.8,308.6 1097.3,308.7 1100.9,307.6 1103.8,307.7 1106.0,306.1 1108.9,301.3 1111.0,300.2 1112.5,298.5 1113.2,298.3 1115.4,300.8 1116.1,301.1 1116.8,300.9 1119.0,298.6 1121.9,296.4 1124.1,292.0 1125.5,290.3 1126.3,290.3 1128.5,292.4 1129.2,292.5 1129.9,292.1 1132.1,289.3 1132.8,289.0 1133.5,289.5 1134.2,290.9 1137.2,301.4 1138.6,304.6 1142.2,308.4 1147.3,311.6 1150.9,312.5 1160.3,312.8 1172.0,311.6 1190.8,312.1 1198.0,310.8 1203.8,308.3 1207.5,305.5 1210.4,305.4 1211.8,304.9 1213.3,305.2 1218.3,309.7 1219.8,310.4 1224.9,310.6 1229.2,310.1 1230.7,309.5 1236.5,305.5 1239.4,304.8 1243.0,306.5 1245.2,305.6 1245.9,305.7 1248.1,307.3 1249.5,307.7 1251.7,307.0 1256.0,306.5 1259.0,304.8 1261.1,304.5 1264.8,299.2 1266.9,298.5 1269.8,295.9 1270.5,295.7 1274.2,296.7 1277.1,300.4 1279.2,301.6 1283.6,305.2 1285.0,305.6 1287.2,305.2 1290.1,307.1 1291.6,306.8 1293.8,305.2 1295.2,305.0 1298.1,305.6 1301.0,307.0 1303.2,306.4 1305.4,307.3 1308.2,307.0 1311.9,309.7 1314.8,310.8 1319.8,311.9 1324.9,311.1 1327.8,311.3 1331.5,310.8 1338.0,308.6 1339.4,308.9 1342.3,310.6 1344.5,310.8" stroke="#7E2F8E"/>
<polyline points="1054.5,307.7 1056.7,309.1 1058.1,309.4 1063.9,308.6 1066.8,308.8 1068.3,308.3 1071.2,304.3 1074.8,297.0 1078.4,285.5 1079.2,285.0 1080.6,285.8 1082.8,283.7 1083.5,283.5 1085.7,284.6 1091.5,288.9 1094.4,296.5 1095.1,297.5 1098.0,298.6 1101.6,302.0 1104.5,305.9 1105.2,306.0 1107.4,305.0 1110.3,304.8 1114.7,302.6 1116.8,302.0 1120.5,296.8 1124.8,295.0 1127.7,290.5 1128.5,291.0 1130.6,295.2 1132.8,294.9 1135.0,296.9 1137.2,297.9 1140.0,302.5 1141.5,303.7 1143.7,303.9 1146.6,304.8 1148.8,303.1 1151.7,303.0 1156.7,300.6 1157.5,301.0 1160.3,305.0 1166.2,306.7 1169.0,306.7 1171.2,307.3 1176.3,305.7 1179.2,301.8 1179.9,301.2 1182.1,301.3 1184.3,299.5 1185.7,299.3 1187.2,300.2 1188.6,300.4 1194.4,297.0 1196.6,297.3 1198.0,295.0 1200.2,289.0 1202.4,286.7 1204.6,281.3 1205.3,280.6 1208.2,287.0 1211.8,291.1 1214.7,291.8 1217.6,296.6 1219.8,298.7 1220.5,298.9 1221.2,298.4 1223.4,295.4 1225.6,294.8 1229.2,299.2 1230.0,299.2 1232.1,297.7 1235.8,297.7 1239.4,300.2 1243.0,304.5 1246.6,306.0 1253.2,306.3 1256.8,305.4 1259.7,303.6 1261.8,304.1 1265.5,299.5 1266.9,295.7 1269.8,282.8 1270.5,280.4 1271.3,279.3 1272.0,279.8 1274.9,287.6 1275.6,288.0 1277.8,287.6 1279.2,288.9 1281.4,294.1 1284.3,297.2 1286.5,302.5 1288.0,304.5 1290.1,305.0 1291.6,304.7 1294.5,301.4 1295.2,301.4 1297.4,302.8 1298.1,302.9 1300.3,301.6 1302.5,301.2 1304.6,299.6 1307.5,299.5 1310.4,297.8 1311.1,298.0 1313.3,300.8 1314.8,301.3 1317.7,298.1 1318.4,298.1 1321.3,301.3 1323.5,301.3 1324.2,301.6 1327.8,305.2 1336.5,310.1 1344.5,312.1" stroke="#77AC30"/>
<polyline points="1054.5,305.0 1056.7,303.4 1063.2,304.3 1064.7,304.2 1067.5,302.5 1072.6,300.2 1075.5,300.4 1078.4,299.7 1081.3,298.3 1082.0,298.6 1084.2,300.7 1087.1,300.9 1093.7,304.2 1095.8,303.7 1098.0,303.8 1100.9,302.4 1101.6,302.5 1104.5,305.1 1110.3,303.6 1114.0,298.7 1118.3,289.1 1120.5,276.7 1121.2,273.4 1121.9,271.9 1122.7,271.9 1124.1,273.2 1124.8,272.6 1127.7,262.4 1128.5,262.2 1129.9,263.4 1132.1,261.2 1132.8,261.9 1134.2,264.8 1135.0,265.2 1138.6,264.3 1139.3,264.3 1140.0,264.9 1146.6,279.4 1147.3,280.2 1148.8,279.7 1149.5,280.0 1150.9,282.5 1151.7,282.3 1153.1,278.8 1153.8,278.1 1154.5,278.6 1157.5,282.3 1161.8,291.9 1165.4,297.4 1169.0,300.1 1172.0,299.8 1173.4,300.3 1177.8,304.0 1181.4,306.3 1182.8,306.4 1185.0,305.6 1189.3,301.1 1191.5,301.2 1193.7,300.0 1195.2,300.3 1195.9,300.0 1201.0,289.8 1201.7,289.2 1202.4,289.8 1203.8,292.8 1204.6,293.4 1205.3,293.0 1207.5,288.6 1209.7,279.1 1210.4,276.5 1211.1,275.7 1211.8,276.6 1213.3,280.1 1214.0,280.9 1215.5,281.1 1216.2,281.8 1218.3,286.1 1220.5,288.5 1224.2,295.7 1225.6,297.1 1226.3,297.1 1229.2,295.1 1232.1,295.6 1235.0,294.5 1237.9,297.4 1239.4,298.2 1241.5,297.2 1243.0,297.1 1243.7,296.3 1245.9,291.6 1246.6,291.7 1248.8,294.9 1253.2,296.4 1253.9,296.4 1254.6,295.9 1256.8,292.6 1257.5,292.4 1259.7,294.5 1261.1,295.3 1263.3,297.9 1264.0,298.1 1265.5,297.0 1266.2,297.1 1267.7,298.9 1270.5,300.3 1272.7,302.6 1275.6,303.2 1278.5,303.0 1282.9,300.8 1285.8,296.5 1286.5,296.5 1288.7,297.7 1290.1,297.8 1291.6,296.4 1293.0,293.8 1293.8,293.4 1295.9,296.5 1297.4,297.4 1302.5,293.6 1303.2,294.1 1304.6,296.0 1305.4,296.2 1306.8,293.3 1309.0,286.6 1310.4,284.1 1311.1,284.4 1313.3,289.4 1314.0,290.3 1316.2,291.1 1316.9,290.6 1317.7,289.4 1320.6,282.4 1321.3,281.6 1322.0,281.6 1324.2,284.9 1326.4,287.2 1328.5,291.4 1330.7,293.2 1332.9,296.0 1335.1,297.0 1336.5,298.6 1339.4,304.0 1341.6,304.9 1344.5,307.4" stroke="#4DBEEE"/>
<polyline points="1054.5,297.6 1056.7,295.6 1058.8,291.6 1059.6,291.5 1061.8,293.4 1063.2,294.0 1064.7,293.9 1066.1,292.6 1067.5,290.0 1070.5,282.2 1071.2,281.4 1072.6,281.0 1073.3,280.4 1075.5,277.2 1078.4,266.7 1079.2,266.3 1081.3,271.0 1082.0,271.2 1086.4,264.6 1087.1,264.0 1087.8,264.0 1089.3,265.5 1091.5,269.2 1092.9,269.7 1093.7,269.5 1095.1,266.6 1097.3,259.1 1098.0,258.1 1098.7,258.6 1100.9,262.9 1101.6,263.4 1104.5,260.5 1105.2,261.5 1108.9,269.6 1111.0,270.9 1113.2,274.0 1114.0,274.0 1115.4,272.3 1116.1,272.0 1117.6,272.4 1119.0,271.8 1121.2,274.3 1123.4,275.4 1126.3,280.6 1127.0,280.9 1129.9,278.3 1130.6,278.6 1133.5,285.1 1136.4,289.8 1137.2,290.8 1137.9,291.0 1139.3,290.4 1140.0,291.2 1142.2,297.0 1143.7,299.4 1145.1,300.8 1149.5,301.1 1152.4,299.0 1154.5,298.5 1156.7,296.5 1158.2,296.2 1162.5,298.4 1168.3,304.5 1170.5,304.4 1173.4,305.7 1177.0,303.4 1180.7,302.5 1182.1,303.6 1184.3,306.0 1186.5,306.6 1187.9,305.7 1190.1,303.2 1194.4,300.7 1195.2,299.3 1198.0,289.4 1198.8,288.7 1201.0,291.7 1201.7,291.3 1203.8,285.4 1204.6,284.6 1205.3,284.9 1207.5,288.5 1211.1,292.6 1213.3,296.7 1217.6,300.6 1222.0,300.3 1223.4,299.7 1227.1,290.9 1227.8,290.6 1230.0,294.5 1230.7,295.3 1231.4,295.3 1234.3,294.3 1235.0,293.7 1237.2,289.9 1237.9,289.6 1238.6,290.0 1241.5,293.9 1243.7,294.5 1246.6,297.9 1247.3,298.3 1249.5,298.4 1251.7,299.2 1254.6,297.1 1256.0,297.5 1259.0,302.9 1260.4,304.3 1262.6,305.0 1264.8,305.0 1266.9,305.6 1272.7,305.7 1274.2,304.9 1278.5,300.9 1280.0,300.9 1282.2,302.2 1282.9,301.9 1284.3,300.0 1287.2,293.7 1289.4,291.7 1291.6,288.1 1293.8,287.9 1295.9,283.8 1296.7,283.5 1300.3,286.4 1303.2,290.0 1306.1,295.4 1307.5,296.6 1309.0,295.8 1310.4,294.0 1311.9,293.7 1316.2,295.9 1319.1,299.3 1319.8,299.9 1320.6,299.9 1322.8,297.3 1324.9,297.0 1327.1,294.3 1327.8,294.2 1329.3,295.2 1331.5,294.4 1332.2,294.8 1335.1,301.0 1336.5,302.6 1339.4,304.0 1341.6,306.1 1343.0,306.3 1344.5,305.7" stroke="#A2142F"/>
</g>
<g stroke="#1a1a1a" stroke-width="1.3" fill="none">
<path d="M830.5,10.5 V620.0 H1410.5"/>
<path d="M830.5,620.00 h6.3" stroke-width="1.1"/>
<path d="M830.5,518.42 h6.3" stroke-width="1.1"/>
<path d="M830.5,416.83 h6.3" stroke-width="1.1"/>
<path d="M830.5,315.25 h6.3" stroke-width="1.1"/>
<path d="M830.5,213.67 h6.3" stroke-width="1.1"/>
<path d="M830.5,112.08 h6.3" stroke-width="1.1"/>
<path d="M830.5,10.50 h6.3" stroke-width="1.1"/>
<path d="M830.50,620.0 v-6.3" stroke-width="1.1"/>
<path d="M946.50,620.0 v-6.3" stroke-width="1.1"/>
<path d="M1062.50,620.0 v-6.3" stroke-width="1.1"/>
<path d="M1178.50,620.0 v-6.3" stroke-width="1.1"/>
<path d="M1294.50,620.0 v-6.3" stroke-width="1.1"/>
<path d="M1410.50,620.0 v-6.3" stroke-width="1.1"/>
<path d="M1410.5,620.0 v-22" stroke-width="1.1"/>
</g>
<g font-size="27" fill="#262626">
<text x="820.6" y="630.00" text-anchor="end">0</text>
<path d="M815.30,509.52 L815.30,528.22 L812.90,528.22 L812.90,513.62 C811.80,514.72 810.20,515.72 808.60,516.32 L808.60,514.22 C810.80,513.22 812.50,511.62 813.50,509.52 Z"/>
<text x="820.6" y="426.83" text-anchor="end">2</text>
<text x="820.6" y="325.25" text-anchor="end">3</text>
<text x="820.6" y="223.67" text-anchor="end">4</text>
<text x="820.6" y="122.08" text-anchor="end">5</text>
<text x="820.6" y="20.50" text-anchor="end">6</text>
<text x="830.50" y="657.7" text-anchor="middle">0</text>
<path d="M948.70,638.80 L948.70,657.50 L946.30,657.50 L946.30,642.90 C945.20,644.00 943.60,645.00 942.00,645.60 L942.00,643.50 C944.20,642.50 945.90,640.90 946.90,638.80 Z"/>
<text x="1062.50" y="657.7" text-anchor="middle">2</text>
<text x="1178.50" y="657.7" text-anchor="middle">3</text>
<text x="1294.50" y="657.7" text-anchor="middle">4</text>
<text x="1410.50" y="657.7" text-anchor="middle">5</text>
</g>
<text x="1120.5" y="694.1" text-anchor="middle" font-size="29.3" fill="#262626">Time (s)</text>
<text transform="translate(791.2,315.3) rotate(-90)" text-anchor="middle" font-size="29.3" fill="#262626">ODBA (g)</text>
<text x="768.6" y="24.6" font-weight="bold" font-size="30.5" fill="#000">B</text>
<g stroke="#111" stroke-width="1.3" fill="none">
<path d="M1054.5,68.9 V314.0 H1344.5"/>
<path d="M1054.5,314.00 h4"/>
<path d="M1054.5,252.72 h4"/>
<path d="M1054.5,191.45 h4"/>
<path d="M1054.5,130.17 h4"/>
<path d="M1054.5,68.90 h4"/>
<path d="M1199.5,314.0 v-4"/>
<path d="M1344.5,314.0 v-40"/>
</g>
<g font-size="17.6" fill="#000">
<text transform="translate(1049.4,321.80) scale(1.35,1)" text-anchor="end">0</text>
<text transform="translate(1049.4,260.52) scale(1.35,1)" text-anchor="end">0.2</text>
<text transform="translate(1049.4,199.25) scale(1.35,1)" text-anchor="end">0.4</text>
<text transform="translate(1049.4,137.97) scale(1.35,1)" text-anchor="end">0.6</text>
<text transform="translate(1049.4,76.70) scale(1.35,1)" text-anchor="end">0.8</text>
</g>
<path d="M1054.5,314.0 L1178.50,620.0" stroke="#000" stroke-width="5.3" stroke-dasharray="5.5,5.05" stroke-dashoffset="0.9" fill="none"/>
<path d="M1344.5,314.0 L1410.50,620.0" stroke="#000" stroke-width="5.3" stroke-dasharray="5.5,5.05" stroke-dashoffset="7.45" fill="none"/>
</svg>
</body></html>
